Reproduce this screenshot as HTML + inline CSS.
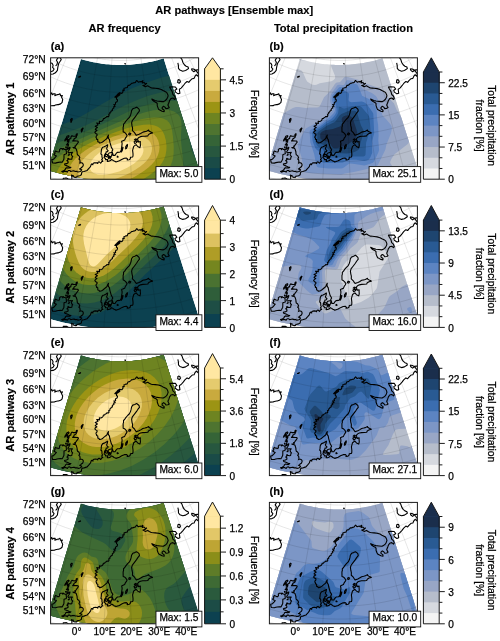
<!DOCTYPE html><html><head><meta charset="utf-8"><style>html,body{margin:0;padding:0;background:#fff;overflow:hidden}svg{display:block;will-change:transform}</style></head><body>
<svg width="500" height="641" viewBox="0 0 500 641" style="font-family:'Liberation Sans',sans-serif">
<defs>
<clipPath id="fr"><rect x="0" y="0" width="148" height="121.4"/></clipPath>
<path id="fan" d="M-2.82 112.4 L-0.09 103.23 L2.68 93.96 L5.48 84.57 L8.32 75.03 L11.21 65.33 L14.17 55.42 L17.19 45.28 L20.3 34.85 L23.51 24.09 L26.84 12.93 L30.31 1.29 L30.31 1.29 L32.38 1.88 L34.46 2.45 L36.54 2.99 L38.63 3.49 L40.73 3.96 L42.84 4.4 L44.95 4.81 L47.07 5.18 L49.2 5.52 L51.33 5.83 L53.46 6.11 L55.6 6.35 L57.74 6.56 L59.89 6.74 L62.04 6.89 L64.19 7 L66.34 7.08 L68.49 7.12 L70.64 7.14 L72.79 7.12 L74.95 7.06 L77.1 6.98 L79.25 6.86 L81.39 6.71 L83.54 6.52 L85.68 6.3 L87.82 6.05 L89.95 5.77 L92.08 5.45 L94.2 5.1 L96.32 4.72 L98.43 4.31 L100.54 3.86 L102.64 3.38 L104.73 2.87 L106.81 2.33 L108.89 1.76 L110.95 1.15 L113.01 0.51 L113.01 0.51 L116.7 12.09 L120.23 23.19 L123.64 33.89 L126.95 44.25 L130.16 54.34 L133.3 64.19 L136.37 73.84 L139.39 83.32 L142.37 92.65 L145.31 101.87 L148.21 110.99 L148.21 110.99 L144.46 112.15 L140.69 113.26 L136.9 114.31 L133.09 115.3 L129.27 116.23 L125.44 117.11 L121.59 117.92 L117.74 118.68 L113.87 119.37 L109.99 120.01 L106.1 120.59 L102.2 121.1 L98.3 121.56 L94.39 121.96 L90.47 122.3 L86.55 122.58 L82.62 122.79 L78.7 122.95 L74.77 123.05 L70.83 123.08 L66.9 123.06 L62.97 122.98 L59.04 122.83 L55.12 122.63 L51.2 122.36 L47.28 122.04 L43.37 121.65 L39.46 121.21 L35.56 120.7 L31.67 120.14 L27.79 119.52 L23.92 118.83 L20.06 118.09 L16.21 117.29 L12.37 116.43 L8.55 115.51 L4.74 114.53 L0.95 113.49 L-2.82 112.4Z"/>
<clipPath id="fc"><use href="#fan"/></clipPath>
<path id="grid" d="M-88.38 96.7 L-72.09 73.12 L-55.31 48.82 L-37.64 23.24 L-18.5 -4.47 L3.21 -35.89 M-62.8 112.41 L-49.13 87.22 L-35.05 61.26 L-20.23 33.93 L-4.17 4.33 L14.03 -29.24 M-35.68 125.29 L-24.79 98.78 L-13.58 71.45 L-1.77 42.69 L11.01 11.54 L25.51 -23.79 M-7.33 135.18 L0.64 107.65 L8.86 79.28 L17.51 49.42 L26.88 17.08 L37.51 -19.6 M21.91 141.97 L26.89 113.75 L32.02 84.66 L37.41 54.04 L43.26 20.88 L49.89 -16.73 M51.72 145.59 L53.64 116.99 L55.61 87.52 L57.69 56.5 L59.94 22.9 L62.5 -15.2 M81.74 145.98 L80.58 117.35 L79.38 87.84 L78.12 56.77 L76.75 23.12 L75.2 -15.03 M111.63 143.16 L107.4 114.81 L103.04 85.6 L98.46 54.85 L93.49 21.54 L87.85 -16.23 M141.04 137.14 L133.8 109.41 L126.33 80.83 L118.47 50.75 L109.96 18.17 L100.3 -18.77 M169.64 128 L159.46 101.21 L148.97 73.6 L137.93 44.54 L125.97 13.05 L112.4 -22.64 M197.09 115.84 L184.1 90.3 L170.7 63.97 L156.61 36.26 L141.34 6.25 L124.02 -27.79 M223.08 100.81 L207.42 76.81 L191.28 52.07 L174.29 26.04 L155.89 -2.17 L135.02 -34.15 M-86.01 93.26 L-78.43 98.31 L-70.69 103.11 L-62.8 107.64 L-54.76 111.92 L-46.59 115.92 L-38.29 119.66 L-29.86 123.11 L-21.33 126.29 L-12.7 129.18 L-3.98 131.79 L4.83 134.1 L13.7 136.13 L22.64 137.86 L31.63 139.29 L40.66 140.42 L49.73 141.25 L58.82 141.79 L67.92 142.02 L77.02 141.95 L86.12 141.58 L95.19 140.91 L104.25 139.94 L113.26 138.68 L122.23 137.11 L131.14 135.25 L139.98 133.09 L148.75 130.65 L157.44 127.91 L166.02 124.89 L174.51 121.59 L182.88 118 L191.12 114.15 L199.24 110.02 L207.21 105.62 L215.03 100.97 L222.7 96.06 L230.19 90.89 L237.52 85.49 L244.66 79.84 M-78.84 82.89 L-71.61 87.71 L-64.23 92.29 L-56.7 96.62 L-49.03 100.7 L-41.23 104.52 L-33.31 108.08 L-25.27 111.38 L-17.13 114.41 L-8.89 117.17 L-0.57 119.66 L7.83 121.86 L16.3 123.8 L24.83 125.44 L33.41 126.81 L42.03 127.89 L50.68 128.69 L59.35 129.2 L68.03 129.42 L76.72 129.35 L85.4 129 L94.06 128.36 L102.7 127.44 L111.3 126.23 L119.86 124.73 L128.36 122.96 L136.8 120.9 L145.17 118.56 L153.45 115.95 L161.65 113.07 L169.74 109.92 L177.73 106.5 L185.59 102.82 L193.34 98.88 L200.94 94.69 L208.41 90.25 L215.72 85.56 L222.88 80.63 L229.87 75.47 L236.68 70.09 M-71.61 72.42 L-64.73 77 L-57.71 81.36 L-50.54 85.48 L-43.24 89.36 L-35.82 93 L-28.28 96.39 L-20.63 99.53 L-12.89 102.41 L-5.05 105.04 L2.87 107.4 L10.86 109.5 L18.92 111.34 L27.04 112.91 L35.2 114.21 L43.4 115.24 L51.63 116 L59.88 116.48 L68.15 116.69 L76.41 116.63 L84.67 116.29 L92.91 115.69 L101.13 114.81 L109.32 113.65 L117.46 112.23 L125.55 110.54 L133.58 108.58 L141.54 106.36 L149.43 103.88 L157.22 101.14 L164.93 98.14 L172.52 94.88 L180.01 91.38 L187.38 87.63 L194.62 83.64 L201.72 79.42 L208.68 74.96 L215.49 70.27 L222.14 65.36 L228.62 60.23 M-64.28 61.81 L-57.75 66.15 L-51.09 70.28 L-44.3 74.19 L-37.37 77.87 L-30.34 81.32 L-23.19 84.54 L-15.93 87.51 L-8.59 90.25 L-1.16 92.74 L6.36 94.98 L13.94 96.97 L21.58 98.72 L29.28 100.2 L37.02 101.44 L44.8 102.41 L52.6 103.13 L60.43 103.59 L68.26 103.79 L76.1 103.73 L83.93 103.42 L91.75 102.84 L99.55 102 L107.31 100.91 L115.03 99.56 L122.7 97.96 L130.32 96.1 L137.87 94 L145.35 91.64 L152.74 89.04 L160.05 86.19 L167.25 83.11 L174.35 79.79 L181.34 76.23 L188.2 72.45 L194.94 68.44 L201.54 64.21 L208 59.77 L214.3 55.11 L220.45 50.25 M-56.82 51.01 L-50.66 55.11 L-44.36 59.01 L-37.94 62.71 L-31.4 66.18 L-24.76 69.44 L-18 72.48 L-11.15 75.29 L-4.21 77.87 L2.81 80.23 L9.9 82.34 L17.06 84.23 L24.28 85.87 L31.55 87.28 L38.87 88.44 L46.21 89.37 L53.59 90.04 L60.98 90.48 L68.38 90.67 L75.79 90.61 L83.18 90.31 L90.57 89.77 L97.93 88.98 L105.26 87.95 L112.56 86.67 L119.81 85.16 L127 83.4 L134.13 81.41 L141.2 79.19 L148.18 76.73 L155.08 74.04 L161.89 71.13 L168.6 67.99 L175.19 64.64 L181.68 61.06 L188.04 57.28 L194.28 53.28 L200.38 49.08 L206.33 44.68 L212.14 40.09 M-49.2 39.97 L-43.4 43.83 L-37.49 47.5 L-31.45 50.97 L-25.31 54.24 L-19.05 57.3 L-12.71 60.16 L-6.27 62.8 L0.26 65.23 L6.86 67.44 L13.53 69.43 L20.26 71.2 L27.05 72.75 L33.88 74.07 L40.76 75.17 L47.66 76.03 L54.6 76.67 L61.54 77.08 L68.5 77.26 L75.46 77.21 L82.42 76.92 L89.36 76.41 L96.28 75.67 L103.18 74.7 L110.03 73.5 L116.85 72.08 L123.61 70.43 L130.32 68.56 L136.96 66.47 L143.52 64.16 L150.01 61.63 L156.41 58.89 L162.71 55.94 L168.92 52.79 L175.01 49.43 L181 45.87 L186.86 42.11 L192.59 38.16 L198.19 34.03 L203.65 29.71 M-41.37 28.65 L-35.96 32.26 L-30.43 35.68 L-24.79 38.93 L-19.04 41.98 L-13.2 44.84 L-7.27 47.51 L-1.25 49.98 L4.85 52.25 L11.02 54.32 L17.25 56.18 L23.54 57.83 L29.88 59.28 L36.27 60.52 L42.7 61.54 L49.15 62.35 L55.63 62.94 L62.12 63.33 L68.63 63.49 L75.13 63.44 L81.63 63.18 L88.12 62.7 L94.59 62.01 L101.03 61.1 L107.44 59.98 L113.81 58.65 L120.13 57.11 L126.4 55.36 L132.6 53.41 L138.74 51.25 L144.8 48.89 L150.78 46.33 L156.67 43.57 L162.47 40.62 L168.17 37.48 L173.76 34.15 L179.24 30.64 L184.6 26.96 L189.83 23.09 L194.93 19.06 M-33.29 16.95 L-28.27 20.3 L-23.14 23.48 L-17.91 26.49 L-12.58 29.32 L-7.16 31.98 L-1.66 34.45 L3.93 36.75 L9.58 38.85 L15.31 40.77 L21.09 42.5 L26.93 44.03 L32.81 45.37 L38.74 46.52 L44.7 47.47 L50.69 48.22 L56.7 48.77 L62.72 49.13 L68.76 49.28 L74.79 49.24 L80.82 48.99 L86.84 48.55 L92.84 47.9 L98.82 47.06 L104.77 46.03 L110.67 44.79 L116.54 43.36 L122.35 41.74 L128.11 39.93 L133.8 37.92 L139.43 35.73 L144.97 33.36 L150.44 30.8 L155.82 28.06 L161.11 25.15 L166.29 22.06 L171.38 18.81 L176.35 15.38 L181.2 11.8 L185.94 8.06 M-24.9 4.8 L-20.28 7.88 L-15.57 10.8 L-10.76 13.57 L-5.86 16.17 L-0.88 18.61 L4.18 20.89 L9.31 22.99 L14.51 24.93 L19.77 26.69 L25.08 28.28 L30.45 29.69 L35.86 30.92 L41.3 31.98 L46.78 32.85 L52.28 33.54 L57.81 34.05 L63.35 34.37 L68.89 34.51 L74.44 34.47 L79.98 34.25 L85.51 33.84 L91.03 33.25 L96.52 32.48 L101.98 31.52 L107.41 30.39 L112.8 29.07 L118.15 27.58 L123.44 25.92 L128.67 24.07 L133.84 22.06 L138.94 19.88 L143.96 17.53 L148.91 15.01 L153.77 12.34 L158.53 9.5 L163.2 6.51 L167.77 3.36 L172.23 0.07 L176.59 -3.38 M-16.11 -7.93 L-11.92 -5.14 L-7.64 -2.48 L-3.27 0.03 L1.17 2.39 L5.7 4.61 L10.29 6.67 L14.95 8.58 L19.67 10.34 L24.44 11.94 L29.26 13.38 L34.13 14.66 L39.04 15.78 L43.99 16.74 L48.96 17.53 L53.96 18.16 L58.97 18.62 L64 18.91 L69.03 19.04 L74.07 19 L79.1 18.8 L84.12 18.43 L89.12 17.89 L94.11 17.19 L99.07 16.32 L104 15.29 L108.89 14.1 L113.74 12.75 L118.54 11.24 L123.29 9.56 L127.99 7.74 L132.62 5.76 L137.18 3.62 L141.66 1.34 L146.07 -1.09 L150.4 -3.67 L154.64 -6.38 L158.79 -9.24 L162.84 -12.23 L166.79 -15.35 M-6.79 -21.41 L-3.06 -18.92 L0.76 -16.55 L4.66 -14.31 L8.63 -12.2 L12.66 -10.22 L16.76 -8.38 L20.92 -6.67 L25.13 -5.11 L29.39 -3.68 L33.69 -2.39 L38.04 -1.25 L42.42 -0.25 L46.83 0.6 L51.27 1.31 L55.73 1.87 L60.2 2.28 L64.69 2.54 L69.18 2.66 L73.67 2.62 L78.16 2.44 L82.64 2.11 L87.11 1.63 L91.56 1.01 L95.99 0.23 L100.38 -0.68 L104.75 -1.75 L109.08 -2.96 L113.36 -4.31 L117.6 -5.8 L121.79 -7.43 L125.92 -9.2 L129.99 -11.1 L134 -13.14 L137.93 -15.31 L141.79 -17.6 L145.58 -20.03 L149.28 -22.58 L152.89 -25.25 L156.42 -28.03 M3.21 -35.89 L6.46 -33.72 L9.79 -31.66 L13.18 -29.71 L16.63 -27.87 L20.14 -26.15 L23.71 -24.54 L27.33 -23.06 L30.99 -21.69 L34.7 -20.45 L38.45 -19.33 L42.23 -18.34 L46.05 -17.47 L49.89 -16.73 L53.75 -16.11 L57.63 -15.62 L61.52 -15.27 L65.43 -15.04 L69.34 -14.94 L73.25 -14.97 L77.16 -15.12 L81.06 -15.41 L84.95 -15.83 L88.82 -16.37 L92.67 -17.05 L96.5 -17.85 L100.3 -18.77 L104.07 -19.82 L107.8 -21 L111.49 -22.3 L115.13 -23.72 L118.73 -25.26 L122.27 -26.91 L125.76 -28.69 L129.18 -30.57 L132.55 -32.57 L135.84 -34.68 L139.06 -36.9 L142.21 -39.23 L145.27 -41.65" fill="none" stroke="#000" stroke-opacity="0.17" stroke-width="0.6"/>
<path id="coast" d="M30.62 112.95 L31.14 111.95 L29.74 111.42 L28.98 111.08 L29.97 110.81 L30.5 110.03 L31.13 109.48 L32.01 108.97 L32.68 107.42 L32.58 106.23 L31.8 105.32 L30.81 104.98 L29.77 104.9 L29.15 105.44 L29.49 104.19 L29.53 103.98 L29.23 101.95 L28.29 101.35 L29.17 99.66 L28.16 97.8 L26.89 97.03 L26.58 95.73 L26.47 93.93 L25.77 91.7 L25.57 91.08 L24.76 90.47 L23.56 90.22 L23.06 90.21 L22.41 89.75 L23.65 89.79 L24.82 89.23 L24.21 88.33 L24.96 88.27 L25.06 88.06 L26.76 85.7 L27.77 84.32 L27.43 83.35 L26.19 83.24 L23.85 83.06 L22.06 83.22 L22.78 82.38 L23.48 81.76 L23.3 81.12 L25.56 79.65 L25.9 78.72 L25.12 78.46 L23.65 78.46 L22.46 78.42 L21.39 77.86 L20.39 79.09 L20.21 80.88 L19.24 80.88 L18.52 81.85 L18.42 83.28 L17.89 84.43 L17.45 85.23 L16.67 85.36 L17.48 86.14 L18.03 86.96 L17.44 88.4 L16.93 90.53 L16.14 91.69 L17.55 91.13 L18.62 89.8 L19.44 89.54 L19.1 91.04 L18.22 92.63 L17.27 93.97 L17.76 95.07 L19.3 94.66 L20.57 94.72 L21.88 94.56 L20.66 96.3 L21.2 97.75 L22.07 98.6 L21.42 99.79 L21.24 101.3 L20.14 101.51 L19.13 101.29 L18.33 101.33 L17.73 100.45 L17.12 100.84 L17.6 101.61 L16.26 102.85 L17.35 103.32 L17.54 104.91 L15.97 105.87 L14.59 106 L13.98 106.29 L14.3 107.25 L15.8 107.81 L17.18 108.34 L19 109.39 L20.34 109.45 L19.39 110.13 L17.99 110.27 L16.16 109.87 L15.15 110.43 L14.64 111.71 L12.94 113.07 L11.12 113.64 L12.25 114.22 L12.34 114.41 L13.37 113.61 L15.5 113.43 L16.74 114.27 L17.73 112.74 L19.13 112.69 L20.16 113.69 L21.77 113.23 L23.44 113.12 L24.77 113.67 L26.09 113.61 L27.5 114.16 L29.57 113.73 L30.62 112.95 M12.44 90.4 L13.86 91.58 L15.21 91.82 L15.73 93.39 L15.72 94.5 L15.91 95.89 L14.89 96.31 L13.45 96.85 L13.39 98.18 L13.4 99.74 L13.26 101.39 L12.28 103.23 L11.53 104.51 L9.85 104.27 L7.87 104.55 L6.43 104.83 L4.92 105.31 L1.93 105.13 L1.52 103.68 L1.24 101.81 L2.99 101.43 L3.79 100.54 L4.59 99.64 L5.8 98.19 L4.37 97.57 L3.25 96.79 L4.42 95.55 L4.17 94.58 L4.83 93.19 L6.72 93.96 L8.49 94.22 L9.08 93.03 L8.88 91.85 L9.95 90.78 L11.74 90.81 L12.25 91.84 L12.44 90.4 M17.34 97.56 L18.79 96.33 L18.6 97.18 L17.34 97.56 M18.46 77.61 L18.23 79.03 L16.09 80.79 L14.27 83.07 L14.26 82.15 L15.51 80.18 L16.41 78.57 L18.46 77.61 M17.47 81.13 L17.63 83.46 L16.83 83.71 L16.33 81.76 L17.47 81.13 M17.01 86.03 L17.41 87.49 L15.75 87.08 L17.01 86.03 M16.04 88.96 L15.49 90.18 L14.98 89.15 L16.04 88.96 M26.84 75.7 L26.38 77.9 L25.43 77.93 L25.6 76.59 L26.84 75.7 M32.69 69.93 L31.99 71.89 L30.91 74.22 L30.58 72.08 L31.5 70.87 L32.69 69.93 M21.68 60.48 L21.39 62.55 L20.4 64.67 L20.03 61.73 L21.68 60.48 M-8 43.11 L-6.11 42.4 L-4.98 41.86 L-5.91 40.94 L-5.52 39.04 L-8.47 37.7 L-6.05 37.24 L-4.91 36.18 L-7.97 34.25 L-6.47 33.36 L-4.97 32.46 L-3.51 32.06 L-2.33 31.79 L-1.41 34.56 L-0.52 37.03 L0.4 35.84 L1.13 35.1 L1.67 36.89 L3.12 35.91 L4.57 35.96 L4.24 37.9 L6.76 36.8 L8.03 36.75 L9.35 35.94 L10.06 38 L11.82 37.69 L10.85 39.3 L12.1 41.75 L11.69 43.63 L11.58 44.6 L10.01 46.08 L7.82 46.83 L7.16 46.85 L4.82 47.27 L3.72 47.87 L0.58 47.94 L-1.62 47.83 L-3.6 45.51 L-5.05 44.13 L-8 43.11 M30.22 18.27 L28.01 19.29 L29.46 19.15 L30.22 18.27 M74.39 5.41 L74.87 6.23 L74.26 5.97 L74.39 5.41 M17.47 126.19 L15.19 124.64 L13.02 123.95 L11.78 122.63 L12.73 121.37 L12.66 120.4 L14.39 120.36 L15.84 120.24 L17.62 121.27 L19.81 121.71 L21.17 122.06 L21.25 120.91 L21.3 119.2 L20.86 117.25 L21.72 117.77 L22.7 117.74 L22.6 119.02 L24.46 119.58 L26.16 119.45 L26.48 118.43 L29.16 117.89 L30.74 116.99 L31.1 114.76 L31.91 113.93 L33.3 113.72 L34.92 113.18 L36.56 112.67 L37.2 111.9 L37.84 111.12 L38.52 110.43 L39.87 108.79 L40.68 106.5 L41.12 106.12 L42.33 106.92 L42.18 106.03 L43.33 105.08 L44.9 104.91 L46.43 105.11 L47.15 105.7 L47.53 104.43 L48.6 104.01 L49.56 104.84 L50.03 105.31 L50.6 104.71 L51.21 103.59 L52.24 103.54 L51.78 102.85 L51.11 101.71 L51.93 100.9 L51.32 99.11 L51.39 98.24 L51.15 96.6 L50.27 96.13 L50.61 94.22 L50.8 92.03 L51 91.16 L52.12 89.4 L53.6 88.94 L55.09 88.16 L56.09 87.56 L57.07 86.99 L56.89 88.05 L56.7 89.15 L56.15 90.22 L56.1 91.1 L56.77 92.03 L57.58 92.74 L56.91 93.8 L55.67 93.94 L55.34 95.24 L54.81 95.86 L54.25 96.7 L53.82 97.55 L53.85 98.86 L53.41 99.71 L54.73 100.67 L55.04 101.78 L57.2 101.69 L56.87 102.98 L56.7 103.62 L58.24 103.49 L59.93 102.79 L60.99 101.66 L62.23 102.36 L63.48 103.27 L64.74 103.73 L65.36 104.18 L68.77 103.02 L71.1 101.63 L73.73 100.43 L75.86 100.26 L76.89 101.11 L76.54 102.2 L78.68 101.92 L79.66 101.01 L79.85 99.48 L82.09 99.16 L82.41 98.05 L82.43 96.08 L82.22 94.33 L82 92.58 L82.61 90.34 L83.11 88.54 L85.51 86.84 L87.08 88.72 L89.33 89.88 L89.86 87.61 L89.66 85.4 L89.75 83.69 L87.91 84.2 L87.3 82.46 L86.97 81.13 L88.24 79.68 L89.89 78.86 L92.26 78.4 L95.02 78.32 L97.29 78.05 L97.82 76.84 L99.73 75.67 L101.94 75.12 L101.17 74.55 L100.21 74.23 L98.24 73.13 L98.12 72.23 L96.02 73.42 L94.27 73.86 L92.29 74.3 L90.05 75.67 L88.43 76.49 L85.67 77.53 L84.53 75.88 L83.89 74.79 L81.88 72.86 L81.95 70.11 L81.38 67.83 L81.02 65.08 L81.74 62.71 L83.3 60.74 L84.63 59 L85.95 57.24 L87.21 55.24 L88.85 53.17 L88.46 51.29 L86.72 49.77 L85.99 49.35 L84.18 50.22 L82.15 50.94 L80.96 52.83 L80.58 55 L79.98 57.16 L78.85 59.57 L77.25 61.05 L75.21 63.44 L73.98 65.33 L72.92 66.27 L72.95 68.12 L72.53 69.5 L72.55 71.8 L72.58 74.08 L73.92 74.52 L75.29 75.85 L76.47 77.63 L75.82 79 L74.93 80.15 L74.05 82.19 L72.44 82.88 L71.05 83.56 L71.52 85.79 L71.41 87.13 L71.06 89.35 L70.83 91.12 L70.71 92.22 L69.61 94.2 L68.87 94.42 L66.67 94.61 L65.42 95.9 L64.39 97.54 L62.4 97.57 L62.43 96.69 L61.76 94.7 L61.32 93.58 L62.23 91.98 L60.76 89.58 L60.14 87.34 L59.33 84.62 L58.79 81.68 L58.13 80.97 L57.55 79.14 L57.88 77.35 L56.86 79.09 L56.55 80.43 L55.57 81.26 L54.08 82.5 L52.58 83.73 L51.09 84.72 L49.38 85.23 L48.79 85.26 L48.43 84.19 L47.21 84.02 L47.18 82.76 L47.19 81.81 L45.99 81.39 L46.1 80.45 L45.57 79.83 L45.4 79.58 L45.59 78.49 L46.43 77.61 L46.49 76.41 L45.19 75.66 L44.25 74.72 L44.74 73.62 L46.35 72.65 L44.68 71.48 L45.46 70.58 L46.82 69.74 L44.63 68.39 L46.28 67.65 L47.37 66.97 L46.11 65.23 L47.59 65.38 L48.95 65.75 L48.75 63.51 L50.13 63.72 L51.16 63.44 L51.84 62.89 L52.53 62.02 L52.8 60.83 L54.06 60.71 L54.66 59.84 L55.65 59.46 L56.29 58.67 L57.86 58.82 L58.42 57.91 L58.16 56.38 L59.31 56 L59.26 54.72 L60.21 54.15 L60.58 53.18 L61.82 52.79 L61.7 51.53 L62.4 50.78 L63.42 50.1 L63.01 48.86 L64.58 48.43 L63.27 46.73 L65.03 46.47 L64.78 45.19 L65.36 44.34 L66.42 43.89 L66.83 42.91 L66.86 41.85 L66.15 41.48 L65.95 41.42 L65.81 39.53 L64.72 39.51 L65.35 39.29 L66.32 39.44 L66.91 38.53 L67.04 36.84 L67.88 36.64 L69.09 36.32 L69.15 34.96 L71.21 35.6 L71.96 34.77 L72.38 33.74 L72.22 32.36 L73.6 32.58 L73.37 30.51 L74.39 30.25 L75.41 29.88 L76.6 29.73 L76.99 28.66 L77.6 27.49 L78.66 27.55 L79.47 26.99 L80.26 26.37 L80.92 25.49 L82.13 25.52 L82.97 25.01 L84.21 24.88 L84.91 24.43 L85.47 23.4 L86.24 22.66 L86.91 23.6 L87.78 24.3 L89.14 23.88 L90.06 23.74 L90.28 24.19 L92.34 22.83 L91.66 25.14 L93.34 24.63 L94.02 25.31 L94.92 26.28 L96.02 25.6 L94.33 27.16 L92.29 27.71 L93.99 28.5 L94.69 29.02 L97.12 28.02 L98.72 29.04 L100.12 29.82 L101.09 30.15 L102.95 30.31 L104.8 30.44 L107.66 30.85 L110.66 31.68 L112.44 32.78 L113.52 33.28 L115.27 34.1 L116.25 34.86 L117.13 36.66 L117.52 38.07 L116.98 39.74 L116.05 41.49 L114.4 42.91 L112.62 43.84 L109.55 43.56 L106.5 43.22 L104.42 42.64 L101.24 41.24 L102.06 42.58 L103.65 43.77 L105.84 44.83 L106.6 45.66 L106.69 48.1 L107.55 50.36 L108.23 51.68 L109.62 52.36 L111.52 53.4 L113.53 53.91 L113.62 52.44 L111.6 50.96 L111.54 49.75 L112.9 48.46 L114.35 49.34 L115.33 50.82 L117.36 50.55 L118.62 49.74 L117.87 48.46 L117.31 47.13 L118.11 45.43 L119 42.7 L120.3 40.83 L122.35 40.23 L124.23 41.68 L124.88 40.46 L123.97 38.21 L122.29 36.69 L121.61 33.82 L120.03 31.19 L119.04 29.15 L121.28 28.99 L124.8 29.15 L126.3 31.27 L124.32 32.44 L124.93 34.31 L127.51 36.04 L129.33 35.41 L128.74 31.46 L130.52 30.3 L132.61 27.92 L134.3 25.66 L136.46 23.69 L138.23 24.56 L139.52 22.91 L141.61 20.87 L143.48 20.54 L144.47 18.4 L145.75 16.92 L147.58 18.52 L147.96 16.08 L146.09 13.64 L144.96 12.21 L147.19 11.92 L150.38 12.21 L152.31 12.01 L155.65 12.4 M127.41 21.85 L129.26 22.24 L129.81 24.19 L128.71 25.4 L127.09 24.65 L127.41 21.85 M140.79 10.87 L142.91 11.25 L145.08 12.44 L143.26 13.93 L141.42 12.56 L140.79 10.87 M127.27 5.16 L127.82 7.8 L127.89 10.62 L129.29 12.31 L132.13 13.39 L135 12.71 L137.91 10.81 L137.55 9.26 L135.52 8.48 L133.74 6.99 L132.35 4.71 L131.33 1.65 L129.65 -0.55 M61.53 94.47 L61.46 96.22 L60.89 97.95 L60.34 99.24 L59.13 98.31 L57.89 98.24 L57.49 96.47 L58.55 95.21 L61.53 94.47 M56.26 96.4 L54.62 96.73 L54.75 98.49 L56.34 99.03 L57.04 97.76 L56.26 96.4 M57.33 99.3 L58.01 100.65 L59.51 100.94 L60.32 99.67 L57.33 99.3 M66.74 98.12 L66.59 99.42 L67.72 99.22 L66.74 98.12 M76.96 86.37 L76.78 88.37 L75.88 90.61 L75.05 91.07 L75.12 88.86 L76.96 86.37 M72.5 89.12 L71.31 92 L70.83 94.2 L71.8 92.44 L72.5 89.12 M84.78 83.09 L83.44 84.07 L84.25 85.8 L85.84 84.81 L86.91 83.38 L84.78 83.09 M85.09 80.82 L83.78 82.03 L85.2 82.39 L86.08 81.65 L85.09 80.82 M78.64 75.06 L78.02 76.68 L79.4 77.08 L80.24 75.68 L78.64 75.06 M66.14 37.47 L64.23 39.4 L67.22 38.49 L69.26 37.02 L69.09 35.02 L67.45 36 L66.14 37.47 M-1 16.5 L2.5 16.2 L4.8 15 L6.8 12.6 L7.25 9.3 L8.2 5.4 L10.6 2 L10.1 0.6 L8.5 -0.5 L7.25 0.1 L5.8 2.5 L7 4.4 L6.3 6.8 L5 8 M-1 5 L1.5 5.5 L2.5 7.5 L2 9.5 L3.5 11.2 L2.5 13 L0.5 14" fill="none" stroke="#000" stroke-width="1.1" stroke-linejoin="round"/>
</defs>
<text transform="translate(234.2 14.2) scale(0.9615 1)" text-anchor="middle" font-weight="bold" stroke="#000" stroke-width="0.15" font-size="11.54">AR pathways [Ensemble max]</text>
<text transform="translate(124.6 32.3) scale(0.9615 1)" text-anchor="middle" font-weight="bold" stroke="#000" stroke-width="0.15" font-size="11.54">AR frequency</text>
<text transform="translate(343.4 32.3) scale(0.9615 1)" text-anchor="middle" font-weight="bold" stroke="#000" stroke-width="0.15" font-size="11.54">Total precipitation fraction</text>
<text transform="translate(13.9 118.9) rotate(-90) scale(0.9615 1)" text-anchor="middle" font-weight="bold" stroke="#000" stroke-width="0.15" font-size="11.54">AR pathway 1</text>
<text transform="translate(45.7 62.9) scale(1.0000 1)" text-anchor="end" stroke="#000" stroke-width="0.25" font-size="10.25">72°N</text>
<text transform="translate(45.7 80.3) scale(1.0000 1)" text-anchor="end" stroke="#000" stroke-width="0.25" font-size="10.25">69°N</text>
<text transform="translate(45.7 96.5) scale(1.0000 1)" text-anchor="end" stroke="#000" stroke-width="0.25" font-size="10.25">66°N</text>
<text transform="translate(45.7 112.1) scale(1.0000 1)" text-anchor="end" stroke="#000" stroke-width="0.25" font-size="10.25">63°N</text>
<text transform="translate(45.7 126.9) scale(1.0000 1)" text-anchor="end" stroke="#000" stroke-width="0.25" font-size="10.25">60°N</text>
<text transform="translate(45.7 141.2) scale(1.0000 1)" text-anchor="end" stroke="#000" stroke-width="0.25" font-size="10.25">57°N</text>
<text transform="translate(45.7 155.3) scale(1.0000 1)" text-anchor="end" stroke="#000" stroke-width="0.25" font-size="10.25">54°N</text>
<text transform="translate(45.7 169.3) scale(1.0000 1)" text-anchor="end" stroke="#000" stroke-width="0.25" font-size="10.25">51°N</text>
<text transform="translate(50.7 50) scale(0.9615 1)" font-weight="bold" stroke="#000" stroke-width="0.15" font-size="11.54">(a)</text>
<g transform="translate(50.6 57.8)">
<g clip-path="url(#fr)"><g clip-path="url(#fc)">
<use href="#fan" fill="#0C4150"/>
<path d="M151 124 -3 124 -3 71.1 12.3 66.5 19 64 24.7 61.5 33.4 57 54 44.6 66.5 37.8 81 30.8 96 24.7 111 19.8 125.5 16.3 132.5 15.1 139 14.4 145 14.1 151 14.2 151 124Z" fill="#1A4B47" fill-rule="evenodd"/>
<path d="M151 124 -3 124 -3 81.5 19.1 74 34.3 68 45.9 62.5 66 51.7 75 47.2 86 42.4 97 38.3 110 34.7 116.5 33.4 122.5 32.6 128 32.2 133.5 32.3 138 32.7 142.5 33.7 147 35.3 151 37.6 151 76 150.4 79 150.2 81.5 150.4 84.5 151 87.1 151 124Z" fill="#27573F" fill-rule="evenodd"/>
<path d="M151 124 -3 124 -3 89.5 41.6 71 52.7 66 77 54.3 91 48.7 102 45.4 112 43.5 121 43 125 43.2 129 43.9 134 45.5 137.9 48 140.6 51 141.6 53 142.3 55 142.8 58 142.7 61.5 142.1 65.5 139.4 77.5 139.1 82 139.3 86 140.5 91.5 142.8 97.5 146 103.5 151 111.4 151 124Z" fill="#356437" fill-rule="evenodd"/>
<path d="M129 124 -3 124 -3 98 7.8 91.5 21.8 84.5 71.5 62.8 83 58.1 93.5 54.6 103 52.5 111.5 51.7 115 51.8 118.5 52.2 123.5 53.8 127 56.1 128.5 57.8 129.5 59.5 130.7 63.5 131 67.5 130.4 77.5 130.4 83 132.4 102.5 132.7 110 132.3 114.5 131.6 118.5 130 123 129.5 124 129 124Z" fill="#4E7430" fill-rule="evenodd"/>
<path d="M104.5 124 -3 124 -3 110.2 -0 106.5 3.9 102.5 8 99 12.7 95.5 18.1 92 25.1 88 40 80.7 65 70.3 76 66.1 84.5 63.2 91.5 61.3 98 60.1 103.5 59.6 108.5 59.8 112.5 60.7 116 62.5 118.5 64.8 120.3 68 121.4 72 122.3 78.5 123.1 88.5 123 95.5 122.5 100 121.5 104 120.1 107.5 118.2 111 115.5 114.6 112 118.3 107 122.5 105 124 104.5 124Z" fill="#6E8421" fill-rule="evenodd"/>
<path d="M88 124 4.2 124 4.2 123 4.7 118.5 6.3 114 8.7 109.5 12.1 105 16.3 100.5 21.7 96 27.4 92 34 88 43.5 83.2 54 78.5 66 73.9 77 70.3 85.5 68.2 93 67 99 66.8 104 67.6 107.3 69 110 71 112.3 74 113.9 77.5 115.2 82.5 115.9 88 115.7 93 114.9 97.5 113.6 101 111.8 104.5 109.5 107.7 106.5 111 103 114.2 98.5 117.6 92.5 121.5 88 124Z" fill="#9C9414" fill-rule="evenodd"/>
<path d="M73.5 124 17.1 124 16.2 120.5 16.2 117 17.1 113 18.9 109 21.8 104.5 25.2 100.5 29.6 96.5 35 92.5 40.6 89 47.2 85.5 55.5 81.7 64 78.5 72.5 75.8 80.5 73.9 87 73 92.5 72.9 97 73.5 101 75 103.8 77 105.9 79.5 107.5 82.5 108.5 86 108.9 89.5 108.5 93.5 107.5 97 105.9 100.5 103.9 103.5 101.3 106.5 98.1 109.5 94.3 112.5 89.5 115.7 84.5 118.7 78 122 73.5 124Z" fill="#C9AA3E" fill-rule="evenodd"/>
<path d="M54 124 35.7 124 33.5 123.1 31.6 122 29.1 119.5 28.1 117.5 27.5 115 27.6 112.5 28.2 109.5 29.5 106.5 31.3 103.5 33.7 100.5 36.2 98 39.7 95 43.2 92.5 51.9 87.5 62 83.1 72.5 79.9 81 78.4 85 78.2 88.5 78.4 91.8 79 94.5 80 96.5 81.1 98.5 82.9 100 85 101.1 88 101.4 91 101 94 100 97 98.3 100 96 103 93.5 105.5 89.9 108.5 85.5 111.5 80.5 114.4 75.5 116.9 70 119.3 64 121.4 58 123.2 54 124Z" fill="#E5CB6E" fill-rule="evenodd"/>
<path d="M52 117 47 116.6 43 115.2 41.5 114.2 40.4 113 39.6 111.5 39.2 110 39.5 106.5 41.3 102.5 44.6 98.5 49.3 94.5 54.8 91 61.1 88 68 85.6 74.5 84.2 80 83.7 85 84.2 89 85.7 91.5 88 92.5 90 92.9 92 92.7 94 91.9 96.5 90.5 99 88.9 101 83.9 105.5 76.6 110 68.5 113.6 60 116 56 116.7 52 117Z" fill="#FFE7A2" fill-rule="evenodd"/>
</g>
<use href="#grid"/>
<use href="#coast"/>
</g>
<rect x="0" y="0" width="148" height="121.4" fill="none" stroke="#1a1a1a" stroke-width="1"/>
</g>
<rect x="155.98" y="166.6" width="45.92" height="15.7" fill="#fff" stroke="#111" stroke-width="0.9"/>
<text transform="translate(159.38 176.8) scale(1.0000 1)" stroke="#000" stroke-width="0.25" font-size="10.2">Max: 5.0</text>
<rect x="204.6" y="68.8" width="15.8" height="110.4" fill="#0C4150"/>
<rect x="204.6" y="68.8" width="15.8" height="99.36" fill="#1A4B47"/>
<rect x="204.6" y="68.8" width="15.8" height="88.32" fill="#27573F"/>
<rect x="204.6" y="68.8" width="15.8" height="77.28" fill="#356437"/>
<rect x="204.6" y="68.8" width="15.8" height="66.24" fill="#4E7430"/>
<rect x="204.6" y="68.8" width="15.8" height="55.2" fill="#6E8421"/>
<rect x="204.6" y="68.8" width="15.8" height="44.16" fill="#9C9414"/>
<rect x="204.6" y="68.8" width="15.8" height="33.12" fill="#C9AA3E"/>
<rect x="204.6" y="68.8" width="15.8" height="22.08" fill="#E5CB6E"/>
<rect x="204.6" y="68.8" width="15.8" height="11.04" fill="#FFE7A2"/>
<path d="M204.6 69 L212.5 57.8 L220.4 69 Z" fill="#FFE7A2"/>
<path d="M204.6 179.2 L204.6 68.8 L212.5 57.8 L220.4 68.8 L220.4 179.2 Z" fill="none" stroke="#111" stroke-width="0.95" stroke-linejoin="miter"/>
<path d="M220.4 179.2h5.6 M220.4 168.16h3.2 M220.4 157.12h3.2 M220.4 146.08h5.6 M220.4 135.04h3.2 M220.4 124h3.2 M220.4 112.96h5.6 M220.4 101.92h3.2 M220.4 90.88h3.2 M220.4 79.84h5.6 M220.4 68.8h3.2" stroke="#111" stroke-width="0.95"/>
<text transform="translate(229.4 183.3) scale(1.0000 1)" stroke="#000" stroke-width="0.25" font-size="10.1">0</text>
<text transform="translate(229.4 150.18) scale(1.0000 1)" stroke="#000" stroke-width="0.25" font-size="10.1">1.5</text>
<text transform="translate(229.4 117.06) scale(1.0000 1)" stroke="#000" stroke-width="0.25" font-size="10.1">3</text>
<text transform="translate(229.4 83.94) scale(1.0000 1)" stroke="#000" stroke-width="0.25" font-size="10.1">4.5</text>
<text transform="translate(251.2 124) rotate(90) scale(1.0000 1)" text-anchor="middle" stroke="#000" stroke-width="0.25" font-size="10.55">Frequency [%]</text>
<text transform="translate(269.5 50) scale(0.9615 1)" font-weight="bold" stroke="#000" stroke-width="0.15" font-size="11.54">(b)</text>
<g transform="translate(269.4 57.8)">
<g clip-path="url(#fr)"><g clip-path="url(#fc)">
<use href="#fan" fill="#F4F4F4"/>
<path d="M151 124 -3 124 -3 -3 151 -3 151 124Z" fill="#D6D9DF" fill-rule="evenodd"/>
<path d="M151 124 -3 124 -3 -3 15 -3 17.1 0 17 0.6 15 0.8 8 -0.1 4.5 -1.2 3.8 -1 3.5 -0.5 3.6 0 5.1 1.5 9 3.5 32 12.8 33.5 14.5 36.7 22 38 23.9 42 26.5 43.5 27 45.5 27.2 47 26.9 50.4 25.5 62 23.5 63.9 22.5 65.4 21 65.8 19.5 65.5 17.6 62.1 9.5 61.3 6.5 59.9 5.5 55.7 4.5 29.5 2.1 24.6 1.5 23.5 1 26.9 0.5 32 0.3 63 -0.4 64 -0.7 64.5 -1.1 64.9 -3 151 -3 151 124Z" fill="#B6BDCB" fill-rule="evenodd"/>
<path d="M125.5 124 -3 124 -3 80.7 -2 80.1 3.5 72.2 9.8 65 12.4 57.5 13.8 56 16 54.5 23.5 50.3 26.5 49.2 29.5 49.2 36.5 50.2 40 49.8 47.5 49.8 49 49.5 50 48.9 51 47.3 54.6 39.5 58 36.3 61.5 32.1 65.5 26.3 66.5 25.2 67.5 24.7 70 24.4 71 24 74.9 19.5 76 18.9 78.5 19.1 89 21.9 93.5 24.5 110 30.4 112.9 32 117 38.1 124.5 45.5 127.2 52 131.5 58.5 136.7 65 137.4 66.5 139.4 81 139.6 83.5 139.3 85 138.1 86.5 125.1 96.5 122.1 101 120.8 104 120.8 105 121.2 106 126.1 113 126.9 115 126.5 115.7 125.4 116.5 118.5 119.5 119.6 120 123.5 120.4 125 120.9 125.6 122 125.5 124Z" fill="#98A6C5" fill-rule="evenodd"/>
<path d="M72 116.6 60.5 116.3 43 115.4 38 115 36 114.4 35.4 114 34.9 113 34.3 108 32.8 103.5 32 99 28.8 90 28.4 88 29 85.5 31.5 79.5 34.7 73.5 36.5 70.8 39 69.1 50 63.8 53 62 57.1 59 62.6 53.5 63.2 52.5 63.3 51 60.9 44.5 60.6 43 60.9 39 61.6 36.5 67.9 27.5 69.5 27 73 27.3 74.5 27.1 75.1 26.5 76.8 23 77.5 22.5 78.5 22.3 88.7 24.5 89.8 25.5 93 30.4 94.5 31.8 102.5 35.1 106.5 38.1 107.5 39.6 110.6 46 112.8 57 113.8 58.5 117 61.6 121.4 67 122.4 69 122.4 71.5 121.6 75.5 117.1 86.5 115.9 92 109.1 106 107.8 108 105 109.3 95.5 111.7 84.5 114.2 75.5 115.7 72 116.6ZM64 124 37.6 124 37.6 123.5 38 122 39 121.5 48 121.5 53 122.2 62.5 122.4 63.9 123 64.3 124 64 124ZM102.5 124 86 124 86.2 123 87 122.2 88 121.8 90 121.7 101 121.9 102.2 122.5 102.6 123.5 102.7 124 102.5 124Z" fill="#7C96C6" fill-rule="evenodd"/>
<path d="M73 110.5 71.5 110.8 59 110.6 49.5 109.7 48.5 109.4 47.5 108.7 46.8 107 44.8 96.5 40.9 84.5 40.2 74 40.5 73 41.3 72 50.5 67 56 62.6 59.5 60.3 64 55.8 65.4 53.5 65.6 51.5 65 48.6 62.5 42.5 62.4 40 63.1 37.5 69.5 29.6 70.5 29.2 71.5 29.2 75.5 30.2 76.5 30.2 77.2 29.5 77.9 27 78.5 26 79 25.6 80 25.5 86.5 26.3 88 27 90 30.9 92.7 38 99.5 41.3 101.5 42.5 104 45.6 106.5 49.6 107.2 52.5 107.8 61.5 108.7 67 109.2 77.5 108.9 82.5 109.7 92 109 94.5 105 102.9 104 104.5 103 105.2 97.6 107 95 107.6 83.5 105.9 80.5 105.8 78.5 106.6 74.5 109.7 73 110.5Z" fill="#5C84C2" fill-rule="evenodd"/>
<path d="M67 105 58.5 105.1 53.5 104.6 52 103.8 51.4 102.5 50.4 96.5 49.8 94.5 49 93.3 47 91.8 46 90.5 43.7 85 43.1 82 42.7 75 43.2 73.5 44.1 72.5 50.5 69 56.5 64.3 61.5 61.5 63.6 59.5 65.5 57.2 67 54.5 67.2 51.5 66.6 47.5 64.2 41.5 64.3 39.5 65.1 38 70 32.8 71 31.9 72 31.6 74.5 32.5 79.4 35.5 79.7 37 79.2 42 79.4 43 80.3 44 82 44.4 92.5 43.8 94 44.2 96 45.2 98 47.2 103 54.1 103.9 56 104.8 75.5 102.7 83.5 102.6 88 102.8 95 101 99.5 99.5 101.6 97.5 102.6 95 103.1 86.8 102 80.5 102 78 102.6 73.5 104.8 67 105Z" fill="#3B6DB0" fill-rule="evenodd"/>
<path d="M77 99.6 74.5 99.8 68 99.6 60 99.8 58 99.6 56.6 99 56 98 54.8 94 53.5 91.6 52.3 90.5 48.5 88.6 46.9 86.5 45.9 84 45.5 82 45.2 78 45.4 75 45.8 74 46.9 73 51.5 70.3 57.5 65.7 63 63 64.8 61.5 66.7 59 68.7 55.5 69.4 50 70 49 71 49.2 73.5 50.5 75 50.7 82.5 48.6 89 48.3 90.7 48.5 92.5 49.6 98.7 57 99.6 58.5 100 60 100.5 73 96.7 85 96.1 97 95.5 98 94 98.6 81 98.8 77 99.6Z" fill="#295A93" fill-rule="evenodd"/>
<path d="M79.5 95.5 77 95.6 67.5 95.2 62 94.7 60.5 94.1 59.5 92.9 57.5 89.2 56.5 88.2 50.5 85.7 49 84.5 48.2 83 47.9 81.5 48 76 48.2 75 49 74 57.4 68 64.5 64.8 65.8 64 70.4 57.5 72 56.1 79 53.2 81.5 52.9 85 53 86.6 53.5 87.7 55 91.5 67.5 94 72.1 94.4 74 90.9 86 90 90.5 89.5 91.5 88 92.7 84.5 94.5 79.5 95.5Z" fill="#1E4570" fill-rule="evenodd"/>
<path d="M67 90.5 65 90.4 63.5 89.9 62.6 89 60.3 85.5 59 84.3 53.5 82.4 51.7 81.5 51.1 80.5 50.9 79.5 50.8 77 51.1 75.5 52.5 74 55.5 72.4 63.5 71.1 70.5 68.7 71.8 67.5 72.8 65.5 72.8 64.5 72.2 61.5 73.1 59.5 74.5 58.4 76.5 57.7 78.5 57.6 80 58 82.4 59.5 83.5 61 87.6 73.5 87.8 75.5 86.8 79 86 80.7 84.9 82 77.3 87.5 75.5 88.4 71.5 88.9 68.5 90.3 67 90.5Z" fill="#1A2E4C" fill-rule="evenodd"/>
</g>
<use href="#grid"/>
<use href="#coast"/>
</g>
<rect x="0" y="0" width="148" height="121.4" fill="none" stroke="#1a1a1a" stroke-width="1"/>
</g>
<rect x="369.11" y="166.6" width="51.59" height="15.7" fill="#fff" stroke="#111" stroke-width="0.9"/>
<text transform="translate(372.51 176.8) scale(1.0000 1)" stroke="#000" stroke-width="0.25" font-size="10.2">Max: 25.1</text>
<rect x="423.4" y="72" width="15.8" height="107.2" fill="#F4F4F4"/>
<rect x="423.4" y="72" width="15.8" height="96.48" fill="#D6D9DF"/>
<rect x="423.4" y="72" width="15.8" height="85.76" fill="#B6BDCB"/>
<rect x="423.4" y="72" width="15.8" height="75.04" fill="#98A6C5"/>
<rect x="423.4" y="72" width="15.8" height="64.32" fill="#7C96C6"/>
<rect x="423.4" y="72" width="15.8" height="53.6" fill="#5C84C2"/>
<rect x="423.4" y="72" width="15.8" height="42.88" fill="#3B6DB0"/>
<rect x="423.4" y="72" width="15.8" height="32.16" fill="#295A93"/>
<rect x="423.4" y="72" width="15.8" height="21.44" fill="#1E4570"/>
<rect x="423.4" y="72" width="15.8" height="10.72" fill="#1A2E4C"/>
<path d="M423.4 72.2 L431.3 57.8 L439.2 72.2 Z" fill="#1A2E4C"/>
<path d="M423.4 179.2 L423.4 72 L431.3 57.8 L439.2 72 L439.2 179.2 Z" fill="none" stroke="#111" stroke-width="0.95" stroke-linejoin="miter"/>
<path d="M439.2 179.2h5.6 M439.2 168.48h3.2 M439.2 157.76h3.2 M439.2 147.04h5.6 M439.2 136.32h3.2 M439.2 125.6h3.2 M439.2 114.88h5.6 M439.2 104.16h3.2 M439.2 93.44h3.2 M439.2 82.72h5.6 M439.2 72h3.2" stroke="#111" stroke-width="0.95"/>
<text transform="translate(448.2 183.3) scale(1.0000 1)" stroke="#000" stroke-width="0.25" font-size="10.1">0</text>
<text transform="translate(448.2 151.14) scale(1.0000 1)" stroke="#000" stroke-width="0.25" font-size="10.1">7.5</text>
<text transform="translate(448.2 118.98) scale(1.0000 1)" stroke="#000" stroke-width="0.25" font-size="10.1">15</text>
<text transform="translate(448.2 86.82) scale(1.0000 1)" stroke="#000" stroke-width="0.25" font-size="10.1">22.5</text>
<text transform="translate(487.6 125.6) rotate(90) scale(1.0000 1)" text-anchor="middle" stroke="#000" stroke-width="0.25" font-size="10.4">Total precipitation</text>
<text transform="translate(475.6 125.6) rotate(90) scale(1.0000 1)" text-anchor="middle" stroke="#000" stroke-width="0.25" font-size="10.4">fraction [%]</text>
<text transform="translate(13.9 267.1) rotate(-90) scale(0.9615 1)" text-anchor="middle" font-weight="bold" stroke="#000" stroke-width="0.15" font-size="11.54">AR pathway 2</text>
<text transform="translate(45.7 211.1) scale(1.0000 1)" text-anchor="end" stroke="#000" stroke-width="0.25" font-size="10.25">72°N</text>
<text transform="translate(45.7 228.5) scale(1.0000 1)" text-anchor="end" stroke="#000" stroke-width="0.25" font-size="10.25">69°N</text>
<text transform="translate(45.7 244.7) scale(1.0000 1)" text-anchor="end" stroke="#000" stroke-width="0.25" font-size="10.25">66°N</text>
<text transform="translate(45.7 260.3) scale(1.0000 1)" text-anchor="end" stroke="#000" stroke-width="0.25" font-size="10.25">63°N</text>
<text transform="translate(45.7 275.1) scale(1.0000 1)" text-anchor="end" stroke="#000" stroke-width="0.25" font-size="10.25">60°N</text>
<text transform="translate(45.7 289.4) scale(1.0000 1)" text-anchor="end" stroke="#000" stroke-width="0.25" font-size="10.25">57°N</text>
<text transform="translate(45.7 303.5) scale(1.0000 1)" text-anchor="end" stroke="#000" stroke-width="0.25" font-size="10.25">54°N</text>
<text transform="translate(45.7 317.5) scale(1.0000 1)" text-anchor="end" stroke="#000" stroke-width="0.25" font-size="10.25">51°N</text>
<text transform="translate(50.7 198.2) scale(0.9615 1)" font-weight="bold" stroke="#000" stroke-width="0.15" font-size="11.54">(c)</text>
<g transform="translate(50.6 206)">
<g clip-path="url(#fr)"><g clip-path="url(#fc)">
<use href="#fan" fill="#0C4150"/>
<path d="M38.5 109.5 33.5 110 28 109.9 22.5 109.2 17 108 11.5 106.3 6.5 104.1 1.5 101.4 -3 98.4 -3 -3 135.7 -3 137.4 2 138.2 7 138.1 12.5 137.2 18 135.3 23.5 132.7 29 129.2 34.5 124.8 40 117.1 48 95 68.1 73.5 90 65.5 97.1 58.5 102.1 52 105.6 45.5 108 38.5 109.5Z" fill="#1E4E45" fill-rule="evenodd"/>
<path d="M36.5 97.5 30.5 97.3 25 96.5 19.5 94.9 14 92.6 9 89.7 4.5 86.3 0.5 82.3 -3 77.8 -3 5.6 -0.4 2.5 5 -3 125.3 -3 127.2 1.5 128.3 6.5 128.5 11.5 127.7 17 126 22 123.3 27.5 119.7 33 115.3 38.5 109.1 45 92.2 61 76 77.1 70.5 82.1 65 86.6 58 91.2 51 94.5 44 96.6 36.5 97.5Z" fill="#2F5E3A" fill-rule="evenodd"/>
<path d="M43.5 87 37 87.5 31 86.9 25 85.4 19 82.7 14 79.4 9.4 75 5.5 70 2.2 64 -0.8 56 -3 47.2 -3 24.8 -1.6 20 0.2 15.5 2.7 11 5.9 6.5 10.4 1.5 15.5 -3 115.3 -3 117.6 1 119.1 5.5 119.7 10 119.4 14.5 118.3 19 116.3 24 113.5 29 109.9 34 105.1 39.5 99.2 45.5 75.5 68.5 67.5 75.5 61.5 79.9 55.5 83.3 49.5 85.6 43.5 87Z" fill="#4A7231" fill-rule="evenodd"/>
<path d="M43 79 37.5 79.1 32.5 78.4 27.5 76.8 23.2 74.5 19 71.3 15.5 67.5 12.5 63 10 58 7.6 51.5 5.8 44 4.9 37.5 4.8 31 5.6 25 7.1 19.5 9.7 14 13 9 15.9 5.5 19 2.5 22.5 -0.4 26.2 -3 104.8 -3 107.6 0.5 109.7 4.5 110.8 8.5 111 13 110.4 17.5 108.9 22 106.6 26.5 103.2 31.5 98.5 37.2 92 44 72.5 62.7 65 69.2 59.5 73.1 54 76 48.5 78 43 79Z" fill="#75861F" fill-rule="evenodd"/>
<path d="M44 72 40 72.2 36 71.7 32 70.4 28.5 68.6 25.5 66.2 23 63.5 20.6 60 18.3 55.5 16.3 50 14.5 43.5 13.6 37.5 13.3 32 13.7 27 14.6 22.5 16.3 18 18.7 13.5 22.5 8.6 27 4.3 32.5 0.3 38.5 -3 92.4 -3 96 -0.2 98.8 3 100.8 6.5 101.9 10.5 102.1 14.5 101.4 19 99.7 23.5 97.2 28 93.1 33.5 87.1 40 69.4 57 62.8 63 58 66.6 53.5 69.2 49 71 44 72Z" fill="#AF9D26" fill-rule="evenodd"/>
<path d="M44 66 41 66.1 38 65.6 35.2 64.5 33 63 30.9 61 29.1 58.5 27.6 55.5 26 51.5 24.3 46 23 40.2 22.3 35.5 22.2 31 22.5 27 23.4 23 24.7 19.5 26.6 16 28.8 13 31 10.5 33.8 8 37.1 5.5 40.5 3.5 44.5 1.6 52.5 -1.1 61 -2.5 65.5 -2.6 69.5 -2.4 73.5 -1.9 77.5 -0.9 81 0.5 84 2 87 4.2 89.5 7 91.2 10 92.1 13 92.3 16.5 91.7 20 90.4 23.5 88.3 27.5 85 32 80.1 37.5 57.5 59 53.7 62 50.5 63.9 47 65.4 44 66Z" fill="#DDC260" fill-rule="evenodd"/>
<path d="M44 60.2 42.5 60.5 41 60.1 39.6 59 38.7 57.5 37.5 54 33.6 38.5 32.8 33 32.8 28.5 33.8 24 35.6 20 38.5 16 42.5 12.5 47 9.8 52.5 7.8 58.5 6.7 64 6.7 69.5 7.8 74 9.7 76 11.1 77.8 13 79 15 79.6 17 79.8 19.5 79.4 22 78.6 24.5 77.3 27 74.5 31 70.4 35.5 55.6 49 47.2 58 45.4 59.5 44 60.2Z" fill="#FFE7A2" fill-rule="evenodd"/>
</g>
<use href="#grid"/>
<use href="#coast"/>
</g>
<rect x="0" y="0" width="148" height="121.4" fill="none" stroke="#1a1a1a" stroke-width="1"/>
</g>
<rect x="155.98" y="314.8" width="45.92" height="15.7" fill="#fff" stroke="#111" stroke-width="0.9"/>
<text transform="translate(159.38 325) scale(1.0000 1)" stroke="#000" stroke-width="0.25" font-size="10.2">Max: 4.4</text>
<rect x="204.6" y="220.2" width="15.8" height="107.2" fill="#0C4150"/>
<rect x="204.6" y="220.2" width="15.8" height="93.8" fill="#1E4E45"/>
<rect x="204.6" y="220.2" width="15.8" height="80.4" fill="#2F5E3A"/>
<rect x="204.6" y="220.2" width="15.8" height="67" fill="#4A7231"/>
<rect x="204.6" y="220.2" width="15.8" height="53.6" fill="#75861F"/>
<rect x="204.6" y="220.2" width="15.8" height="40.2" fill="#AF9D26"/>
<rect x="204.6" y="220.2" width="15.8" height="26.8" fill="#DDC260"/>
<rect x="204.6" y="220.2" width="15.8" height="13.4" fill="#FFE7A2"/>
<path d="M204.6 220.4 L212.5 205.5 L220.4 220.4 Z" fill="#FFE7A2"/>
<path d="M204.6 327.4 L204.6 220.2 L212.5 205.5 L220.4 220.2 L220.4 327.4 Z" fill="none" stroke="#111" stroke-width="0.95" stroke-linejoin="miter"/>
<path d="M220.4 327.4h5.6 M220.4 314h3.2 M220.4 300.6h5.6 M220.4 287.2h3.2 M220.4 273.8h5.6 M220.4 260.4h3.2 M220.4 247h5.6 M220.4 233.6h3.2 M220.4 220.2h5.6" stroke="#111" stroke-width="0.95"/>
<text transform="translate(229.4 331.5) scale(1.0000 1)" stroke="#000" stroke-width="0.25" font-size="10.1">0</text>
<text transform="translate(229.4 304.7) scale(1.0000 1)" stroke="#000" stroke-width="0.25" font-size="10.1">1</text>
<text transform="translate(229.4 277.9) scale(1.0000 1)" stroke="#000" stroke-width="0.25" font-size="10.1">2</text>
<text transform="translate(229.4 251.1) scale(1.0000 1)" stroke="#000" stroke-width="0.25" font-size="10.1">3</text>
<text transform="translate(229.4 224.3) scale(1.0000 1)" stroke="#000" stroke-width="0.25" font-size="10.1">4</text>
<text transform="translate(251.2 273.8) rotate(90) scale(1.0000 1)" text-anchor="middle" stroke="#000" stroke-width="0.25" font-size="10.55">Frequency [%]</text>
<text transform="translate(269.5 198.2) scale(0.9615 1)" font-weight="bold" stroke="#000" stroke-width="0.15" font-size="11.54">(d)</text>
<g transform="translate(269.4 206)">
<g clip-path="url(#fr)"><g clip-path="url(#fc)">
<use href="#fan" fill="#F4F4F4"/>
<path d="M151 124 -3 124 -3 -3 151 -3 151 124Z" fill="#D6D9DF" fill-rule="evenodd"/>
<path d="M151 124 -3 124 -3 -3 151 -3 151 124ZM85.7 98 91.6 96 99.5 91.6 102.5 88.5 107.2 82.5 107.8 80.5 110.2 65.5 118.2 53 119.4 50.5 119 49 117.6 47 112.8 41 111 39.5 109 39.1 99.5 38.4 97 38.4 95.5 38.9 92 41.8 84.2 51 82.9 52 78.5 54.3 77 55.4 74.5 58.7 72.6 62.5 71.7 65 71.4 67 71.3 73 71.8 76 73.6 78.5 75.1 84 81.7 97 83 98.3 84 98.4 85.7 98Z" fill="#B6BDCB" fill-rule="evenodd"/>
<path d="M81 124 -3 124 -3 -3 112.7 -3 114.3 -2 116.5 -1.4 133.5 -0.9 134.9 -1 136.2 -1.5 138 -3 151 -3 151 -2.5 150.1 -2 145.4 0.5 143 1.5 138 2.7 123.1 5.5 118.7 7 113.2 10 110.9 12 105.5 19.6 104.2 21 102.2 22 94 25.1 92 26.5 91 28.4 88.4 36 87.1 37.5 81 42.6 77.1 47.5 72.8 52 71.5 54.2 68.9 61.5 68 62.9 66 63.5 57.5 63.1 56.5 63.3 56 63.7 55.5 66.5 55.8 77.5 54.8 88 54.2 91 53.7 92 53 92.7 47.1 95 46.6 95.5 46.4 96.5 53 105.6 54.5 107.2 55.5 107.6 57.5 107.2 68.5 102.5 69.5 102.4 70.5 102.8 72 104.8 75.3 111.5 76.3 113 83.5 119 86.2 120.5 82.5 121.5 81.7 122.5 81.3 124 81 124ZM151 124 105.8 124 105 122.3 103.5 121.3 98.7 121 96.3 120.5 102.5 119 103.9 118 103.3 115.5 103.8 114 105.3 112 114.5 101.9 116 99.2 119.4 91.5 120.5 89.9 128 85 132.5 80.7 144.5 74.6 145 74.7 147 76.6 151 77.7 151 124Z" fill="#98A6C5" fill-rule="evenodd"/>
<path d="M46 88.1 43 88.4 40.5 87 37 84 28.8 75.5 28.3 73.5 29.2 67.5 30 65.5 31.6 63 32.1 61.5 31.7 60 31.2 59.5 30 59.1 26 58.8 22 59 9.5 61.5 6.3 62.5 5.6 63 5.1 64 4.2 76 3 80.7 2 82.7 1.5 82.3 0.5 77 0 75.8 -0.5 75.5 -1 75.6 -3 77 -3 -3 103.4 -3 106.4 -0.5 108 0.3 118.5 1.4 120.5 2 120 2.5 118.7 3 105.2 6.5 100.9 8 96.4 10.5 89.5 15.4 88.6 17.5 88.7 21 88.3 23 83.3 34 80 38.7 75.8 45.5 71 50.2 69 53 67.9 55 65.8 60.5 65 61.1 63.5 61.3 55.5 60.5 54.5 61 53.7 62 53 64 52.7 66.5 53.1 78 52.2 85 51.8 86 51 86.9 46 88.1ZM149 111.1 147.5 110.9 147 109.5 147 107.5 147.6 103.5 147.8 94.5 148 93.5 148.5 92.9 149.5 92.3 151 91.9 151 110.8 149 111.1ZM142 107.2 141.5 107.3 140.5 106.8 138.3 104.5 137.6 103 138.2 102 140.5 101.1 141 101 141.8 101.5 142.2 102.5 142.5 104.5 142.5 106 142 107.2Z" fill="#7C96C6" fill-rule="evenodd"/>
<path d="M49 80.7 48 80.8 46.5 80.2 40.5 76.5 39 75 39 73.5 41.6 68.5 42.8 64.5 43.2 62 43.1 58 43.5 55.5 42.8 54 41 52.5 39.5 51.8 36.5 51.1 35.9 50.5 36.4 49.5 37.7 48.5 42 46.9 49.1 43 49.9 42 50 41.5 49.6 40.5 44.5 35.2 41.3 33 36.7 31 28.5 28.5 24.5 26.4 23 26 22 26.1 21 26.5 3.5 37.7 2.5 38.2 2 38.1 1.2 36.5 0.4 32 -0.1 31 -1 30.5 -3 30.6 -3 -3 82.9 -3 80.5 -0.5 80.2 0 80.6 0.5 96.5 2 99.7 2.5 100.7 3 100.3 3.5 99.1 4 88.5 7 86.5 7.7 85.4 8.5 85 10 84.9 18.5 85.1 19.5 86.5 21.5 86.7 22.5 86 24.5 83.8 29 82 32.3 78.6 37 74.7 43.5 68.9 49.5 67.3 52 64.9 55 63.6 58 63 58.8 62 59.3 60 59.4 55 58.4 54 58.9 52.7 60.5 51.4 63 50.5 67 50.1 70 50.1 78.5 49.7 80 49 80.7Z" fill="#5C84C2" fill-rule="evenodd"/>
<path d="M39 22.6 36.5 22.6 33.5 22.1 31.3 21.5 29.5 20.6 2.7 2 1.1 0 0.8 -1 1.1 -2 2 -2.9 3.5 -3 10 -1.5 16.5 -0.7 17 -1.1 16.1 -3 51.6 -3 51.5 -1.5 51.1 -0.5 50.5 0.2 48.9 1 49.9 1.5 53 1.9 75.1 3 79.2 3.5 80.6 4 80.4 4.5 79.3 5 73 6.7 67.5 7.4 59.5 7.9 56.6 8.5 55.7 9 54.8 10 52.5 15 51.1 19 50.5 19.9 49 20.4 39 22.6ZM60 57.2 58 57.3 56.5 56.5 55 55 54.8 53.5 57.3 44 60.9 37.5 62.7 32.5 65.3 28.5 65.9 27 65.8 26.5 65 25.7 58.9 23 56.5 21.5 56.9 21 58 20.9 67 21.1 69 20.8 70 20.3 71 19.2 73.6 15 75 13.5 76.5 13.2 79 14 80.5 14.9 81 15.8 81.7 20 82 20.5 84.8 22.5 85 23.5 84.5 25 82 29.7 76.6 36.5 72.9 42.5 67.4 48 66.6 49 65.5 51.5 62.5 54.5 61 56.5 60 57.2Z" fill="#3B6DB0" fill-rule="evenodd"/>
<path d="M25 0 22 0 20.5 -0.4 19.7 -1.5 19.5 -3 50.1 -3 50 -2 49.5 -1.3 45.5 -0.3 25 0ZM37 14.5 34 14.7 32.1 14 20.5 6 19.2 5 18.5 4 19 3.5 21.5 3 29 3 53.6 4 58.5 4.5 60 5 59.5 5.5 52 7 49.5 8 48.8 9 47.5 12.2 46 13.6 37 14.5ZM59.5 54.2 58.5 54 58.3 52.5 60.1 46 65.2 36 70.9 27 72.5 25.5 77.5 22 79.5 22 82.8 23 83.3 24 83.1 25 81 28.7 74.8 36 71.1 41.5 65 47.5 64.4 48.5 64 50.5 63.3 51.5 61.5 53 59.5 54.2Z" fill="#295A93" fill-rule="evenodd"/>
<path d="M44.5 -1.5 22.5 -1.4 21.8 -1.5 21.1 -2 20.8 -3 47.3 -3 46.5 -2 44.5 -1.5ZM39 8.6 37.5 8.7 36 8.4 34.5 7.5 33.7 6.5 34 6 34.5 5.8 37.5 5.4 40.5 5.8 41.6 6.5 41.6 7 41 7.8 39 8.6ZM66 43.1 65.5 43.2 65 43 64.9 42.5 65.5 40 66.4 37.5 72.7 28.5 74.4 27 78 24.9 79.5 24.3 80.9 24.5 81 25.5 79.4 28 72.5 36 69.5 40.1 66 43.1Z" fill="#1E4570" fill-rule="evenodd"/>
</g>
<use href="#grid"/>
<use href="#coast"/>
</g>
<rect x="0" y="0" width="148" height="121.4" fill="none" stroke="#1a1a1a" stroke-width="1"/>
</g>
<rect x="369.11" y="314.8" width="51.59" height="15.7" fill="#fff" stroke="#111" stroke-width="0.9"/>
<text transform="translate(372.51 325) scale(1.0000 1)" stroke="#000" stroke-width="0.25" font-size="10.2">Max: 16.0</text>
<rect x="423.4" y="220.1" width="15.8" height="107.3" fill="#F4F4F4"/>
<rect x="423.4" y="220.1" width="15.8" height="96.57" fill="#D6D9DF"/>
<rect x="423.4" y="220.1" width="15.8" height="85.84" fill="#B6BDCB"/>
<rect x="423.4" y="220.1" width="15.8" height="75.11" fill="#98A6C5"/>
<rect x="423.4" y="220.1" width="15.8" height="64.38" fill="#7C96C6"/>
<rect x="423.4" y="220.1" width="15.8" height="53.65" fill="#5C84C2"/>
<rect x="423.4" y="220.1" width="15.8" height="42.92" fill="#3B6DB0"/>
<rect x="423.4" y="220.1" width="15.8" height="32.19" fill="#295A93"/>
<rect x="423.4" y="220.1" width="15.8" height="21.46" fill="#1E4570"/>
<rect x="423.4" y="220.1" width="15.8" height="10.73" fill="#1A2E4C"/>
<path d="M423.4 220.3 L431.3 205.5 L439.2 220.3 Z" fill="#1A2E4C"/>
<path d="M423.4 327.4 L423.4 220.1 L431.3 205.5 L439.2 220.1 L439.2 327.4 Z" fill="none" stroke="#111" stroke-width="0.95" stroke-linejoin="miter"/>
<path d="M439.2 327.4h5.6 M439.2 316.67h3.2 M439.2 305.94h3.2 M439.2 295.21h5.6 M439.2 284.48h3.2 M439.2 273.75h3.2 M439.2 263.02h5.6 M439.2 252.29h3.2 M439.2 241.56h3.2 M439.2 230.83h5.6 M439.2 220.1h3.2" stroke="#111" stroke-width="0.95"/>
<text transform="translate(448.2 331.5) scale(1.0000 1)" stroke="#000" stroke-width="0.25" font-size="10.1">0</text>
<text transform="translate(448.2 299.31) scale(1.0000 1)" stroke="#000" stroke-width="0.25" font-size="10.1">4.5</text>
<text transform="translate(448.2 267.12) scale(1.0000 1)" stroke="#000" stroke-width="0.25" font-size="10.1">9</text>
<text transform="translate(448.2 234.93) scale(1.0000 1)" stroke="#000" stroke-width="0.25" font-size="10.1">13.5</text>
<text transform="translate(487.6 273.75) rotate(90) scale(1.0000 1)" text-anchor="middle" stroke="#000" stroke-width="0.25" font-size="10.4">Total precipitation</text>
<text transform="translate(475.6 273.75) rotate(90) scale(1.0000 1)" text-anchor="middle" stroke="#000" stroke-width="0.25" font-size="10.4">fraction [%]</text>
<text transform="translate(13.9 415.3) rotate(-90) scale(0.9615 1)" text-anchor="middle" font-weight="bold" stroke="#000" stroke-width="0.15" font-size="11.54">AR pathway 3</text>
<text transform="translate(45.7 359.3) scale(1.0000 1)" text-anchor="end" stroke="#000" stroke-width="0.25" font-size="10.25">72°N</text>
<text transform="translate(45.7 376.7) scale(1.0000 1)" text-anchor="end" stroke="#000" stroke-width="0.25" font-size="10.25">69°N</text>
<text transform="translate(45.7 392.9) scale(1.0000 1)" text-anchor="end" stroke="#000" stroke-width="0.25" font-size="10.25">66°N</text>
<text transform="translate(45.7 408.5) scale(1.0000 1)" text-anchor="end" stroke="#000" stroke-width="0.25" font-size="10.25">63°N</text>
<text transform="translate(45.7 423.3) scale(1.0000 1)" text-anchor="end" stroke="#000" stroke-width="0.25" font-size="10.25">60°N</text>
<text transform="translate(45.7 437.6) scale(1.0000 1)" text-anchor="end" stroke="#000" stroke-width="0.25" font-size="10.25">57°N</text>
<text transform="translate(45.7 451.7) scale(1.0000 1)" text-anchor="end" stroke="#000" stroke-width="0.25" font-size="10.25">54°N</text>
<text transform="translate(45.7 465.7) scale(1.0000 1)" text-anchor="end" stroke="#000" stroke-width="0.25" font-size="10.25">51°N</text>
<text transform="translate(50.7 346.4) scale(0.9615 1)" font-weight="bold" stroke="#000" stroke-width="0.15" font-size="11.54">(e)</text>
<g transform="translate(50.6 354.2)">
<g clip-path="url(#fr)"><g clip-path="url(#fc)">
<use href="#fan" fill="#0C4150"/>
<path d="M135 124 -3 124 -3 -3 151 -3 151 111.5 142 118.9 135 124Z" fill="#1A4B47" fill-rule="evenodd"/>
<path d="M110.5 124 -3 124 -3 7.8 7.3 -3 151 -3 151 92 141.5 101.3 131.2 110 119.6 118.5 112 123.3 110.5 124Z" fill="#27573F" fill-rule="evenodd"/>
<path d="M81.5 124 0.2 124 -3 121.8 -3 30.2 3.5 21.3 11 12.7 19.3 4.5 28.1 -3 151 -3 151 68.1 144.5 77 137.2 85.5 129.2 93.5 120.5 101 111.1 108 101.5 114.1 91.5 119.6 81.5 124Z" fill="#356437" fill-rule="evenodd"/>
<path d="M47 121 38.5 121.3 30.5 120.6 23 119 16.3 116.5 10 113 4.9 109 0.4 104 -3 98.5 -3 56 -0.9 51 1.8 45.5 5 40.1 8.4 35 12.6 29.5 17.5 23.8 22.5 18.7 28 13.6 34 8.8 40 4.5 46 0.6 52.5 -3 135.3 -3 138.1 0 140.6 3.5 142.9 7.5 144.5 11.5 145.7 15.5 146.5 20 146.9 24.5 146.8 29.5 146.3 34 145.4 39 143.8 45 141.9 50.5 139.5 56 137 61 130.7 71 126.9 76 122.7 81 113.7 90 104 98 93 105.4 81.5 111.5 70 116.1 58.5 119.3 52.5 120.4 47 121Z" fill="#4E7430" fill-rule="evenodd"/>
<path d="M51.5 108.5 44.5 108.9 38 108.5 32 107.4 26.5 105.6 21.5 103.1 17.2 100 13.5 96.3 10.6 92 8.3 87 7 82 6.4 76.5 6.6 70.5 7.7 64.5 9.6 58 12.3 51.5 15.6 45.5 19.6 39.5 24.4 33.5 29.5 28 35.6 22.5 42 17.5 48.5 13.3 55.5 9.4 62.5 6.2 69.5 3.8 76.5 1.9 83.5 0.8 90.5 0.4 97 0.7 103 1.8 108.5 3.5 113.5 6 116.5 8 119.4 10.5 121.7 13 123.9 16 125.5 19 127 22.5 127.9 26 128.6 30 128.8 34 128.6 38 128.1 42 127.1 46.5 125.7 51 123.9 55.5 119.4 64 113.5 72.5 106.5 80.4 98.5 87.7 89.8 94 80.5 99.4 71 103.7 61 106.8 51.5 108.5Z" fill="#6E8421" fill-rule="evenodd"/>
<path d="M52 100 46.5 100.4 41.5 100.2 36.5 99.4 32 98 28 96.1 24.5 93.6 21.5 90.6 19.3 87.5 17.4 83.5 16.3 79.5 15.8 75 15.9 70.5 16.6 66 18.1 61 20.1 56 22.8 51 26 46.1 29.7 41.5 33.9 37 38.3 33 43.5 29 48.5 25.8 53.5 23 59 20.5 64.5 18.5 70 17.1 75.5 16.2 81 15.8 87 16.2 91.5 17 95.5 18.2 99.5 20.1 104 23.5 107.3 27.5 109.7 32.5 110.9 38 111 44.5 109.9 51.5 107.5 58.5 104.2 65 99.8 71.5 94.5 77.7 88.2 83.5 81.5 88.5 74.5 92.7 67 96.1 59.5 98.6 52 100Z" fill="#9C9414" fill-rule="evenodd"/>
<path d="M54 92.5 49.5 92.9 45.5 92.8 41.5 92.2 38 91.2 35 89.9 32 88 29.5 85.7 27.4 83 25.8 80 24.7 76.5 24.2 73 24.2 69.5 24.8 65.5 25.8 61.5 27.4 57.5 29.5 53.5 32.1 49.5 35 45.7 38.4 42 42 38.7 46 35.5 50 32.9 54.5 30.3 59 28.3 63.5 26.6 68 25.4 72.5 24.7 77 24.4 81 24.6 85 25.3 88.5 26.5 91.5 28 95 30.5 98 34 100 38 101.2 43 101.3 48 100.5 53 98.7 58.5 96 64 92.6 69 88.4 74 83.5 78.7 78 82.9 72 86.5 66 89.3 60 91.3 54 92.5Z" fill="#C9AA3E" fill-rule="evenodd"/>
<path d="M53 85 47 84.7 44.2 84 41.6 83 39.5 81.8 37.4 80 35.7 78 34.6 76 33.6 73.5 33.1 71 33 68.5 33.3 65.5 33.9 62.5 35 59.5 38.1 53.5 42.4 48 47.8 43 54 38.8 60.5 35.7 67 33.8 73.5 33.2 76.5 33.4 79.5 34 82 34.9 84.5 36.2 87.3 38.5 89.2 41 90.7 44.5 91.4 48 91.3 52 90.4 56 88.7 60.5 86.5 64.5 83.6 68.5 79.8 72.5 75.7 76 71.5 78.9 67 81.3 62.5 83.1 57.5 84.4 53 85Z" fill="#E5CB6E" fill-rule="evenodd"/>
<path d="M58 76.1 54 76.2 50 75.5 47 73.9 44.5 71.3 43.2 68 42.9 64.5 43.7 60.5 45.5 56.5 48 52.9 51.2 49.5 55.2 46.5 59.5 44.3 64 42.9 68.5 42.3 72.5 42.7 75.9 44 77.9 45.5 79.2 47 80.3 49 81 51.5 81.1 54 80.7 56.5 80 59 78.6 62 75 67 73 69 70.4 71 67.5 72.8 64.5 74.3 61 75.5 58 76.1Z" fill="#FFE7A2" fill-rule="evenodd"/>
</g>
<use href="#grid"/>
<use href="#coast"/>
</g>
<rect x="0" y="0" width="148" height="121.4" fill="none" stroke="#1a1a1a" stroke-width="1"/>
</g>
<rect x="155.98" y="463" width="45.92" height="15.7" fill="#fff" stroke="#111" stroke-width="0.9"/>
<text transform="translate(159.38 473.2) scale(1.0000 1)" stroke="#000" stroke-width="0.25" font-size="10.2">Max: 6.0</text>
<rect x="204.6" y="368" width="15.8" height="107.6" fill="#0C4150"/>
<rect x="204.6" y="368" width="15.8" height="96.84" fill="#1A4B47"/>
<rect x="204.6" y="368" width="15.8" height="86.08" fill="#27573F"/>
<rect x="204.6" y="368" width="15.8" height="75.32" fill="#356437"/>
<rect x="204.6" y="368" width="15.8" height="64.56" fill="#4E7430"/>
<rect x="204.6" y="368" width="15.8" height="53.8" fill="#6E8421"/>
<rect x="204.6" y="368" width="15.8" height="43.04" fill="#9C9414"/>
<rect x="204.6" y="368" width="15.8" height="32.28" fill="#C9AA3E"/>
<rect x="204.6" y="368" width="15.8" height="21.52" fill="#E5CB6E"/>
<rect x="204.6" y="368" width="15.8" height="10.76" fill="#FFE7A2"/>
<path d="M204.6 368.2 L212.5 353.6 L220.4 368.2 Z" fill="#FFE7A2"/>
<path d="M204.6 475.6 L204.6 368 L212.5 353.6 L220.4 368 L220.4 475.6 Z" fill="none" stroke="#111" stroke-width="0.95" stroke-linejoin="miter"/>
<path d="M220.4 475.6h5.6 M220.4 464.84h3.2 M220.4 454.08h3.2 M220.4 443.32h5.6 M220.4 432.56h3.2 M220.4 421.8h3.2 M220.4 411.04h5.6 M220.4 400.28h3.2 M220.4 389.52h3.2 M220.4 378.76h5.6 M220.4 368h3.2" stroke="#111" stroke-width="0.95"/>
<text transform="translate(229.4 479.7) scale(1.0000 1)" stroke="#000" stroke-width="0.25" font-size="10.1">0</text>
<text transform="translate(229.4 447.42) scale(1.0000 1)" stroke="#000" stroke-width="0.25" font-size="10.1">1.8</text>
<text transform="translate(229.4 415.14) scale(1.0000 1)" stroke="#000" stroke-width="0.25" font-size="10.1">3.6</text>
<text transform="translate(229.4 382.86) scale(1.0000 1)" stroke="#000" stroke-width="0.25" font-size="10.1">5.4</text>
<text transform="translate(251.2 421.8) rotate(90) scale(1.0000 1)" text-anchor="middle" stroke="#000" stroke-width="0.25" font-size="10.55">Frequency [%]</text>
<text transform="translate(269.5 346.4) scale(0.9615 1)" font-weight="bold" stroke="#000" stroke-width="0.15" font-size="11.54">(f)</text>
<g transform="translate(269.4 354.2)">
<g clip-path="url(#fr)"><g clip-path="url(#fc)">
<use href="#fan" fill="#F4F4F4"/>
<path d="M151 124 -3 124 -3 -3 151 -3 151 124Z" fill="#D6D9DF" fill-rule="evenodd"/>
<path d="M151 124 -3 124 -3 -3 151 -3 151 124Z" fill="#B6BDCB" fill-rule="evenodd"/>
<path d="M151 124 -3 124 -3 -3 151 -3 151 73.2 149.5 72.9 148.7 73 148.3 73.5 147.8 76 147.5 91 147.6 91.5 148.5 92.1 151 92.2 151 124ZM121 100.5 127.5 100.1 129.4 99.5 129.8 99 130.1 98 130.6 92.5 131 91.6 131.5 91.2 133 91.3 138 92.1 139.5 92.7 141 93.6 141.5 93.5 142.1 90.5 142.3 82.5 142.2 77 142 75.8 141.5 74.8 140 74.4 129.5 74.9 127 75.3 125.9 76 123.5 80.1 119 91 114.5 97.5 113.5 100 113.7 100.5 115 100.8 121 100.5Z" fill="#98A6C5" fill-rule="evenodd"/>
<path d="M28.5 124 -3 124 -3 -3 151 -3 151 29.7 149 29.5 148.3 29 147 19.8 146.5 18.8 146 18.5 135.6 24.5 135 25 134.6 26 134.5 27.5 135 31 140 53 140.1 54 139.7 55 138 56 122.5 61.2 120.9 62 119.9 63.5 118.5 68.5 116 72.2 114.5 73.5 111.5 73.2 110.4 73.5 109.3 75.5 107.5 80.5 105.3 84 96.4 96 91 101.5 89.2 103 83.5 105.4 81 105.9 67.5 104.6 61 105.2 56.5 104.2 43.5 106.8 42 106.7 37.5 105.7 36 105.7 34.7 106.5 29.5 111.5 27.6 113 17.2 118 15.7 119 15.6 119.5 17 120 27.5 121.1 28.5 122 28.7 124 28.5 124Z" fill="#7C96C6" fill-rule="evenodd"/>
<path d="M36 90 34 90.3 33.2 90 32.7 89.5 27.5 75.9 26.5 73.8 25.5 72.5 24.5 72 22.5 71.9 21 71.4 11.6 66 2 61.2 -0.5 60.4 -3 60 -3 -3 59.2 -3 59.1 0.5 60 1.2 72.2 4.5 88 7.7 96 11 100.5 11.6 106.5 14.3 108.5 15.5 111 20.2 112 21 113 20.9 117.5 18.7 118.5 18.6 119 18.9 120 21.7 124.7 42 125.1 44.5 124.6 45.5 124 45.9 117 48.4 115.6 49.5 114.8 51.5 112.3 61.5 111.6 63 110.4 64.5 109.5 65 108 64.6 99 58.9 97.5 58.1 96.5 58 95.5 58.7 94.9 60 95.5 63.5 95 65.5 92.3 69.5 89 73.7 87 74.8 73 79.9 68.5 83 60.5 89.4 58.5 89.7 53 88.9 46.5 89 40.5 89.2 36 90ZM80 0 71 0.3 69.8 -0.5 69.5 -3 84.5 -3 82 -0.6 80 0ZM71 14.5 72.5 13.4 73.2 12 73.2 10 72.5 9.1 70 8.3 67 7.7 64 7.6 62 8 62.2 8.5 65.5 10.9 69 14.4 70 14.8 71 14.5Z" fill="#5C84C2" fill-rule="evenodd"/>
<path d="M53.5 84 47 84.1 43.5 83.2 38.5 84.4 37.5 84 37 83.4 32.2 70 32.6 68.5 35.5 66.2 35.7 65.5 35.4 64.5 34 62.9 29.5 60.4 26.2 56.5 24.8 54 23 46.5 22 45.5 19.9 44.5 19 43 16 26 16.4 23.5 18.2 20 19 19.3 20.5 19.1 30 20.3 31.5 20.3 33.5 19.1 39 14.3 40.5 13.7 42.5 14 48.5 15.7 58 18.6 61.5 19.9 66 22.1 68 21.4 74.5 17.3 76.5 16.8 88.5 17.5 93 18.7 94.5 18.5 97.5 17.6 98.5 17.6 103.5 19.9 104.9 22 110.2 34.5 110.5 36 106.2 54 105.4 56 104.5 56.6 103 56.2 91.5 48.6 90 48 89 48.2 87.5 50.2 84.6 55 83.9 56.5 84.2 58.5 87.4 68 87.3 69.5 86.5 70.8 85.5 71.5 84.5 71.5 83.3 68.5 80 62.7 79 61.5 78 61.4 74.5 65.5 70.1 70 66.3 74.5 65 75.5 58.5 79.1 57 80.5 55 83.1 53.5 84ZM-1.5 30.7 -2 30.3 -2 29.9 -1.5 29.8 -1.3 30 -1.5 30.7Z" fill="#3B6DB0" fill-rule="evenodd"/>
<path d="M52.5 82.1 49 82.3 47 81.9 44.5 79.2 41.7 78 40.6 75.5 40.4 74 41.2 72 41.5 70.3 41.4 66 40.5 64.2 35.7 56.5 35.1 54.5 38.9 44 41 40 47.5 32.8 49.5 31.2 50 31.2 51 31.7 55.5 37 57 37.4 59.5 36.4 66.8 32.5 67.9 31.5 69.2 29.5 70 28.9 79.5 24.6 81.5 24.6 89 25.9 91 25.6 96 23.8 97.5 23.9 98.8 24.5 100.1 26.5 101.6 30 102 32 100.5 41.3 99.5 44.4 99 44.6 98 44.1 93 38.2 92.1 37.5 91.5 37.4 89 38.6 85.5 42 81 44.1 79.6 45.5 76.2 50.5 75.6 52 75.2 54 74.6 55 67.8 62.5 60.5 69.9 54 80.6 53.3 81.5 52.5 82.1Z" fill="#295A93" fill-rule="evenodd"/>
<path d="M74.5 41 73.4 41 73 40.6 73 40 74.6 36 76 34.3 80 31.9 81.5 31.3 85 31.6 86.3 32 86.8 32.5 86.6 33.5 86 34.5 83.7 37.5 82.6 38.5 80 39.5 74.5 41ZM68 54.7 66 54.5 62 52.5 61.4 51.5 61.4 49.5 62 47.9 64.5 44.4 66.5 43.4 70 42.7 70.7 43 70.8 43.5 69.9 47 70.3 52 69.5 53.5 68 54.7ZM51.5 80.1 50 80.4 48.2 80 47.2 79 45.7 76.5 44.9 74 44.3 68 43.7 65 40.4 58.5 40.3 57.5 40.7 56.5 43.9 52.5 45 51.6 46 51.6 47 52.3 52 57 52.8 58 54 60.7 55 60.9 57 59.9 58 59.8 60.9 61 61.6 62 60.9 63.5 58 66.5 56.2 69 55.7 70 55.5 73 55 74.5 52.6 79 51.5 80.1Z" fill="#1E4570" fill-rule="evenodd"/>
<path d="M50.5 77.7 49.5 77.7 49 77.3 47.2 72.5 45.8 64.5 45 61 45.3 60 46 59.7 47 60.1 49.1 62 53.5 63.9 54 64.5 53.7 65.5 51.1 70 51 71.5 51.4 75.5 51 77 50.5 77.7Z" fill="#1A2E4C" fill-rule="evenodd"/>
</g>
<use href="#grid"/>
<use href="#coast"/>
</g>
<rect x="0" y="0" width="148" height="121.4" fill="none" stroke="#1a1a1a" stroke-width="1"/>
</g>
<rect x="369.11" y="463" width="51.59" height="15.7" fill="#fff" stroke="#111" stroke-width="0.9"/>
<text transform="translate(372.51 473.2) scale(1.0000 1)" stroke="#000" stroke-width="0.25" font-size="10.2">Max: 27.1</text>
<rect x="423.4" y="368.3" width="15.8" height="107.3" fill="#F4F4F4"/>
<rect x="423.4" y="368.3" width="15.8" height="96.57" fill="#D6D9DF"/>
<rect x="423.4" y="368.3" width="15.8" height="85.84" fill="#B6BDCB"/>
<rect x="423.4" y="368.3" width="15.8" height="75.11" fill="#98A6C5"/>
<rect x="423.4" y="368.3" width="15.8" height="64.38" fill="#7C96C6"/>
<rect x="423.4" y="368.3" width="15.8" height="53.65" fill="#5C84C2"/>
<rect x="423.4" y="368.3" width="15.8" height="42.92" fill="#3B6DB0"/>
<rect x="423.4" y="368.3" width="15.8" height="32.19" fill="#295A93"/>
<rect x="423.4" y="368.3" width="15.8" height="21.46" fill="#1E4570"/>
<rect x="423.4" y="368.3" width="15.8" height="10.73" fill="#1A2E4C"/>
<path d="M423.4 368.5 L431.3 354 L439.2 368.5 Z" fill="#1A2E4C"/>
<path d="M423.4 475.6 L423.4 368.3 L431.3 354 L439.2 368.3 L439.2 475.6 Z" fill="none" stroke="#111" stroke-width="0.95" stroke-linejoin="miter"/>
<path d="M439.2 475.6h5.6 M439.2 464.87h3.2 M439.2 454.14h3.2 M439.2 443.41h5.6 M439.2 432.68h3.2 M439.2 421.95h3.2 M439.2 411.22h5.6 M439.2 400.49h3.2 M439.2 389.76h3.2 M439.2 379.03h5.6 M439.2 368.3h3.2" stroke="#111" stroke-width="0.95"/>
<text transform="translate(448.2 479.7) scale(1.0000 1)" stroke="#000" stroke-width="0.25" font-size="10.1">0</text>
<text transform="translate(448.2 447.51) scale(1.0000 1)" stroke="#000" stroke-width="0.25" font-size="10.1">7.5</text>
<text transform="translate(448.2 415.32) scale(1.0000 1)" stroke="#000" stroke-width="0.25" font-size="10.1">15</text>
<text transform="translate(448.2 383.13) scale(1.0000 1)" stroke="#000" stroke-width="0.25" font-size="10.1">22.5</text>
<text transform="translate(487.6 421.95) rotate(90) scale(1.0000 1)" text-anchor="middle" stroke="#000" stroke-width="0.25" font-size="10.4">Total precipitation</text>
<text transform="translate(475.6 421.95) rotate(90) scale(1.0000 1)" text-anchor="middle" stroke="#000" stroke-width="0.25" font-size="10.4">fraction [%]</text>
<text transform="translate(13.9 563.5) rotate(-90) scale(0.9615 1)" text-anchor="middle" font-weight="bold" stroke="#000" stroke-width="0.15" font-size="11.54">AR pathway 4</text>
<text transform="translate(45.7 507.5) scale(1.0000 1)" text-anchor="end" stroke="#000" stroke-width="0.25" font-size="10.25">72°N</text>
<text transform="translate(45.7 524.9) scale(1.0000 1)" text-anchor="end" stroke="#000" stroke-width="0.25" font-size="10.25">69°N</text>
<text transform="translate(45.7 541.1) scale(1.0000 1)" text-anchor="end" stroke="#000" stroke-width="0.25" font-size="10.25">66°N</text>
<text transform="translate(45.7 556.7) scale(1.0000 1)" text-anchor="end" stroke="#000" stroke-width="0.25" font-size="10.25">63°N</text>
<text transform="translate(45.7 571.5) scale(1.0000 1)" text-anchor="end" stroke="#000" stroke-width="0.25" font-size="10.25">60°N</text>
<text transform="translate(45.7 585.8) scale(1.0000 1)" text-anchor="end" stroke="#000" stroke-width="0.25" font-size="10.25">57°N</text>
<text transform="translate(45.7 599.9) scale(1.0000 1)" text-anchor="end" stroke="#000" stroke-width="0.25" font-size="10.25">54°N</text>
<text transform="translate(45.7 613.9) scale(1.0000 1)" text-anchor="end" stroke="#000" stroke-width="0.25" font-size="10.25">51°N</text>
<text transform="translate(50.7 494.6) scale(0.9615 1)" font-weight="bold" stroke="#000" stroke-width="0.15" font-size="11.54">(g)</text>
<g transform="translate(50.6 502.4)">
<g clip-path="url(#fr)"><g clip-path="url(#fc)">
<use href="#fan" fill="#0C4150"/>
<path d="M151 124 -3 124 -3 -3 151 -3 151 98.1 150 100 149.5 102 149.9 103.5 151 104.1 151 124Z" fill="#1C4C46" fill-rule="evenodd"/>
<path d="M151 124 -3 124 -3 -3 151 -3 151 72.3 140.5 82.9 135.3 89 131.7 94.5 131 96.5 130.8 98.5 131.2 101.5 132.8 105.5 134.8 109 137 111.5 138.9 113 141 114.1 147 115.3 151 116.9 151 124ZM48.1 26.5 49.5 25.9 50.5 25.1 51.5 23.6 52 22.2 52.1 19 50.9 15.5 45 5.8 42.5 2.8 40.5 1.5 38.5 0.9 36.5 1 34.5 1.7 32 3.9 30.7 6.5 30.7 9.5 31.9 12.5 37.5 20.7 40.5 24.1 42.5 25.5 44.5 26.4 46.5 26.7 48.1 26.5Z" fill="#2A5A3D" fill-rule="evenodd"/>
<path d="M133.5 124 -3 124 -3 72.9 2.5 68 7.5 63 10 60 12.3 56 15.1 49.5 16.8 44.5 18.6 35 19.9 30 20.2 25.5 21 24 22.5 23.3 24.5 23.9 28.9 28 31.8 30 40 34.3 52.5 40 55.5 42.1 61.5 48 63.5 48.8 65.5 48.9 68.5 47.6 70.7 45.5 74.3 39 74.7 37.5 74.7 36.5 73.5 33.9 72 32.1 70.7 31 68.5 30.1 62.5 28.7 61.4 28 60.5 26.8 60.1 25.5 60.2 24.5 62.8 16 63.3 13 63.2 11 62.8 9.5 62 8.4 58 5.6 56.6 4 55.5 1 55 -3 151 -3 151 22 148.5 24.1 146.3 26.5 144.8 29 143.8 31.5 143.1 36.5 143 46.5 142.8 51 142 55.5 140.8 59.5 139.1 63 136.7 66.5 126 78.8 123 81.6 117.6 84.5 115.5 86.3 114.3 88.5 113.7 91 113.6 94.5 114.2 98.5 115.3 102 117.1 105.5 120.5 110.2 127 117.2 130.5 120.5 133.9 123 133.9 124 133.5 124Z" fill="#3E6A34" fill-rule="evenodd"/>
<path d="M88 76.1 86.5 76 85 74.9 84.5 73.5 83.6 68 82.9 66 82 65 78.5 62.6 77 61.2 75.5 59.1 74.9 57 74.8 54.5 75.6 51.5 77.3 48 81.5 41.5 82.3 39.5 82.6 37 82.5 34.5 80.7 22.5 80 20.9 77.2 17.5 76.3 16 75.8 14 76 12 77.2 9.5 79 7.5 88 -0.1 92.6 -3 109.9 -3 113 -0.5 115.7 3 120.4 12 122.2 17 122.9 22 123 30.5 123.9 42 123.7 47.5 122.8 52 121.7 55 120 58 117.8 60.5 114.8 63 112 64.7 108.5 66.4 94.6 71.5 92.2 73 89.5 75.4 88 76.1ZM109 124 -1.6 124 -1.6 123 -0.5 121.5 0.5 120.9 5 120.2 7 119.4 8.5 118.3 9.5 116.8 9.9 115.5 9.7 114 6.7 108 5.6 104.5 5.5 100.5 6.4 96.5 7.7 93.5 12 85.5 17.2 73.5 23 64 25 57.5 26.1 55 27.5 53.2 29.5 51.7 32 50.4 34 50 36.5 50.7 40.7 54 44.9 55 46.5 56.3 47.5 58.5 48.2 63 48.6 64.5 49.9 66 54.5 69.5 56.1 71.5 57.9 75.5 61.5 86.6 63.5 89.8 66 91.9 68 92.9 70 93.4 72 93.5 74 93.2 78.7 91.5 86 87.6 88.5 86.9 90 87.1 91.5 87.7 95 90.4 99.3 95.5 102.2 101 104.2 106.5 107.7 118 109.1 123 109 124Z" fill="#5E7C28" fill-rule="evenodd"/>
<path d="M100.5 56.5 98.5 56.7 96 56.4 93.5 55.7 91 54.5 88.6 53 87.1 51.5 86.3 50 86 48.5 86 46 87 36.5 87 27.5 87.5 19.5 86.9 17 86.3 16 83.9 13.5 83.5 12.5 83.6 11.5 84.5 9.9 87.5 8 92 6.3 96 5.5 99.5 5.7 102.5 6.5 105.5 8.3 108 10.6 110.6 14 112.8 18 114.1 22 114.8 26 114.9 32 114.3 37.5 113.1 42 110.8 48 109 51.1 106.5 53.8 103.5 55.6 100.5 56.5ZM85.5 124 26.5 124 25.6 116.5 24.5 101.9 22.8 93 22.9 80 23.4 76.5 24.7 73 26.1 70.5 29.1 66.5 29.9 65 30.5 59 31.3 57 32.5 55.7 34 55.1 35.5 55.4 40.5 58.3 42.2 60 43 61.9 43.5 65.5 44 67 45.5 68.9 50.1 73 52.3 76 54.1 80 55.9 87 57 90 59 93.6 61.2 96 64.5 98 68.5 99.1 72.5 99.2 80 98.5 83 98.9 86 100.2 88.7 102.5 90.2 105 91.1 107.5 91.4 110 91.3 113 90.6 116 89.5 118.7 87.9 121 85.7 123 85.7 124 85.5 124Z" fill="#8B8E19" fill-rule="evenodd"/>
<path d="M99.5 47 97 47.3 95.5 46.7 94.5 46 92.8 43.5 92 40 92.4 33.5 91.8 26 92.3 22.5 93.5 19.4 95 17.1 96.5 16 98.5 15.4 100 15.6 101.5 16.1 103 17 104.5 18.6 105.7 20.5 106.5 22.5 107.2 27 107.1 30 106.6 33.5 104.9 40 103.8 42.5 102.5 44.6 101 46.2 99.5 47ZM57.5 124 36.9 124 36.9 123 35 120 33.6 116.5 31.3 107 30.3 100 28.9 93.5 28.6 90.5 28.7 85 28.1 78.5 28.5 76 29.3 73.5 33.2 67 34.8 61.5 36 60.4 37 60.3 37.9 60.5 39.2 61.5 39.9 63 40.4 66.5 41.2 68.5 42.7 70.5 47.1 75 49.2 78 50.6 81.5 52 88 53 91 55.2 96.5 57 99.2 60.5 102.5 64 104.8 67.5 105.9 73 106.3 75.5 106.8 77.7 108 79 110 79.1 111.5 78.8 113 78 114.3 77 115.2 75.3 116 73.5 116.3 68 114.9 65.5 115.4 64 116.3 62.5 117.7 57.8 123 57.8 124 57.5 124Z" fill="#BEA534" fill-rule="evenodd"/>
<path d="M49 119.5 47 119.6 45 119.2 43 118.2 41 116.5 39.4 114.5 37.9 112 36.5 108.5 35.3 104.5 32.9 93 32.2 80 32.6 77 33.5 74.8 35 72.9 36.5 72 38.5 72.2 41 73.7 44 76.5 46.2 79.5 47.5 82.7 49.3 90.5 51.5 97.4 52.8 100.5 55.7 106 56.6 108.5 56.8 110.5 56.6 112 56 113.8 55 115.5 52.5 118 51 118.9 49 119.5Z" fill="#E2C768" fill-rule="evenodd"/>
<path d="M47 110.5 46 110.6 44.5 110.1 42.5 108.3 40 104 38.5 99.5 37.1 92.5 36.3 83.5 36.5 81.5 36.9 80 37.5 79.2 38.5 78.6 40 78.7 41.9 80 43 81.5 44 84.1 48.4 101.5 49.2 105.5 49.2 107.5 48.8 109 48 110 47 110.5Z" fill="#FFE7A2" fill-rule="evenodd"/>
</g>
<use href="#grid"/>
<use href="#coast"/>
</g>
<rect x="0" y="0" width="148" height="121.4" fill="none" stroke="#1a1a1a" stroke-width="1"/>
</g>
<rect x="155.98" y="611.2" width="45.92" height="15.7" fill="#fff" stroke="#111" stroke-width="0.9"/>
<text transform="translate(159.38 621.4) scale(1.0000 1)" stroke="#000" stroke-width="0.25" font-size="10.2">Max: 1.5</text>
<rect x="204.6" y="516.2" width="15.8" height="107.6" fill="#0C4150"/>
<rect x="204.6" y="516.2" width="15.8" height="95.64" fill="#1C4C46"/>
<rect x="204.6" y="516.2" width="15.8" height="83.69" fill="#2A5A3D"/>
<rect x="204.6" y="516.2" width="15.8" height="71.73" fill="#3E6A34"/>
<rect x="204.6" y="516.2" width="15.8" height="59.78" fill="#5E7C28"/>
<rect x="204.6" y="516.2" width="15.8" height="47.82" fill="#8B8E19"/>
<rect x="204.6" y="516.2" width="15.8" height="35.87" fill="#BEA534"/>
<rect x="204.6" y="516.2" width="15.8" height="23.91" fill="#E2C768"/>
<rect x="204.6" y="516.2" width="15.8" height="11.96" fill="#FFE7A2"/>
<path d="M204.6 516.4 L212.5 502 L220.4 516.4 Z" fill="#FFE7A2"/>
<path d="M204.6 623.8 L204.6 516.2 L212.5 502 L220.4 516.2 L220.4 623.8 Z" fill="none" stroke="#111" stroke-width="0.95" stroke-linejoin="miter"/>
<path d="M220.4 623.8h5.6 M220.4 611.84h3.2 M220.4 599.89h5.6 M220.4 587.93h3.2 M220.4 575.98h5.6 M220.4 564.02h3.2 M220.4 552.07h5.6 M220.4 540.11h3.2 M220.4 528.16h5.6 M220.4 516.2h3.2" stroke="#111" stroke-width="0.95"/>
<text transform="translate(229.4 627.9) scale(1.0000 1)" stroke="#000" stroke-width="0.25" font-size="10.1">0</text>
<text transform="translate(229.4 603.99) scale(1.0000 1)" stroke="#000" stroke-width="0.25" font-size="10.1">0.3</text>
<text transform="translate(229.4 580.08) scale(1.0000 1)" stroke="#000" stroke-width="0.25" font-size="10.1">0.6</text>
<text transform="translate(229.4 556.17) scale(1.0000 1)" stroke="#000" stroke-width="0.25" font-size="10.1">0.9</text>
<text transform="translate(229.4 532.26) scale(1.0000 1)" stroke="#000" stroke-width="0.25" font-size="10.1">1.2</text>
<text transform="translate(251.2 570) rotate(90) scale(1.0000 1)" text-anchor="middle" stroke="#000" stroke-width="0.25" font-size="10.55">Frequency [%]</text>
<text transform="translate(269.5 494.6) scale(0.9615 1)" font-weight="bold" stroke="#000" stroke-width="0.15" font-size="11.54">(h)</text>
<g transform="translate(269.4 502.4)">
<g clip-path="url(#fr)"><g clip-path="url(#fc)">
<use href="#fan" fill="#F4F4F4"/>
<path d="M151 124 -3 124 -3 -3 151 -3 151 124Z" fill="#D6D9DF" fill-rule="evenodd"/>
<path d="M151 124 -3 124 -3 -3 151 -3 151 124Z" fill="#B6BDCB" fill-rule="evenodd"/>
<path d="M151 124 -3 124 -3 -3 151 -3 151 124ZM60.4 30 62 28.6 64.1 25 64.1 22 63.6 20.5 63 19.9 60.5 19 55.5 20.1 47.5 19.4 44 18.7 42.7 19 42.4 20.5 42.7 22 44.1 24 46 25.7 48 26.7 56 29.3 59 30.1 60.4 30Z" fill="#98A6C5" fill-rule="evenodd"/>
<path d="M151 124 -3 124 -3 -3 -1 -3 1.4 0 4.2 2.5 27 18.9 37.4 32.5 41.5 37.5 42.1 39 42.4 44 43 45.3 44.5 46.2 52.5 48.7 55 48.5 58 47 61.5 44.5 63.5 42 72.5 28.8 73.4 27 74.2 23.5 74.3 15 74.9 12.5 75.5 11.6 76.5 10.8 79 10.2 85.9 9 89 8.7 91 9 93 10.1 99.5 14.9 100.5 16.8 102.3 22.5 103.5 24.5 109 30.6 112 33.1 114 34.2 115 34.2 116 33.8 120 30.5 121.5 29.6 129 27.9 133 28.1 144.5 29.6 147 30.2 151 30.2 151 124Z" fill="#7C96C6" fill-rule="evenodd"/>
<path d="M84.5 124 25.9 124 26.5 122.2 27.5 121.3 33 120.5 33.2 120 32.1 119 31.3 117 30.6 116 27.3 113 25 111.4 20.5 109.4 19.5 108.7 18.9 107.5 18.7 106 18.7 91.5 19 88.5 20.3 85 27 70.7 30.1 68 33.5 64 35.5 62.3 38 61.5 44 61.7 50.5 60.4 53 59.1 61 53.8 63 51.5 70 40.9 75.5 33.9 76.4 32 78.1 26.5 79 25.3 80 24.9 88.5 26.5 91.2 27.5 94.5 30.2 103 38.2 104.6 40 105.7 42 110.1 53.5 110.6 56 110.3 69 109 70.2 99 72.8 98 73.2 97.3 74 96.2 77.5 94.6 88.5 94.1 90.5 82.2 110 82 111 82.1 111.5 83 112.2 84.5 112.5 101.5 114.1 129.4 118.5 136 120 137.2 120.5 138.1 121.5 138 122 137 122.7 135 123.2 133 123.3 130 122.9 127.3 121 125 120.4 86 120.8 84.9 121 84.5 121.5 85 124 84.5 124ZM147.5 116.8 147 116.9 146 116.3 145 115 144 112.9 137.7 93.5 134.2 86 131.1 73.5 130.9 71.5 131.5 70.7 133.5 70.7 141 72 142.5 72.4 143.1 73 143.6 74 144.1 76 144.9 89 145 89.8 145.5 90.5 146 89.7 146.2 88.5 146.8 76 147.4 75 148 74.5 149 74.3 151 74.5 151 96.6 145.5 95.3 144.9 97 145.1 106.5 145.5 108 147.3 111 147.9 115 147.8 116.5 147.5 116.8Z" fill="#5C84C2" fill-rule="evenodd"/>
<path d="M76.5 64.3 75 64.3 73.5 62.8 68.5 55.3 68 54 68.1 53 69.3 50.5 72 46.6 80 37.5 81.5 37 82.5 37.3 84 38.3 90.5 44 91.2 45 91.5 46 91.3 48.5 90.1 54 88.8 56 85.4 59 76.5 64.3ZM60.5 112.6 58 112.8 54 112.8 49 112.2 44.5 110 37.5 107.7 34 105.4 28 103.1 26.6 102 26.1 100 26.1 95 26.6 85.5 27.4 83 30.4 76.5 31.2 75 32.1 74 42 68.8 47.5 67.9 50 67.9 51.3 68.5 53 69.8 63.5 79.2 64.5 80.5 65.5 83.5 66.5 84.8 71.5 86.4 75 87.1 76.5 86.8 79.5 84.8 80.5 84.9 80.9 86 80.9 87.5 80.3 90.5 72.4 104.5 70.8 106 65.4 108.5 62 111.8 60.5 112.6ZM58.5 124 53.8 124 53.9 123 54.3 122.5 55 122.3 57.5 122.3 58.5 123 58.7 124 58.5 124Z" fill="#3B6DB0" fill-rule="evenodd"/>
<path d="M51 106 47.5 105.5 41.9 103.5 40 102 34.4 96.5 33.7 95 34.1 83.5 34.4 81.5 35.2 79.5 36 78.4 37.1 77.5 44.5 74.2 46 74.2 47 74.6 56.5 79.7 59.5 82 60.6 84 61.6 90 62.2 92 63 93 65.5 94.1 66.4 95 66.4 96 65.7 97.5 64 100.1 62.6 101.5 53.3 105.5 51 106Z" fill="#295A93" fill-rule="evenodd"/>
<path d="M50 99.5 48 99.8 46.5 99 40 93.5 38.8 92 38.5 90 39.1 85 39.9 83 41 82 43.5 81.1 46.5 81.5 53.5 83.8 55 84.6 56 85.7 56.5 87.5 56.9 91 57 94 56.8 95.5 56.1 96.5 55.4 97 50 99.5Z" fill="#1E4570" fill-rule="evenodd"/>
</g>
<use href="#grid"/>
<use href="#coast"/>
</g>
<rect x="0" y="0" width="148" height="121.4" fill="none" stroke="#1a1a1a" stroke-width="1"/>
</g>
<rect x="369.11" y="611.2" width="51.59" height="15.7" fill="#fff" stroke="#111" stroke-width="0.9"/>
<text transform="translate(372.51 621.4) scale(1.0000 1)" stroke="#000" stroke-width="0.25" font-size="10.2">Max: 10.0</text>
<rect x="423.4" y="516.5" width="15.8" height="107.3" fill="#F4F4F4"/>
<rect x="423.4" y="516.5" width="15.8" height="96.57" fill="#D6D9DF"/>
<rect x="423.4" y="516.5" width="15.8" height="85.84" fill="#B6BDCB"/>
<rect x="423.4" y="516.5" width="15.8" height="75.11" fill="#98A6C5"/>
<rect x="423.4" y="516.5" width="15.8" height="64.38" fill="#7C96C6"/>
<rect x="423.4" y="516.5" width="15.8" height="53.65" fill="#5C84C2"/>
<rect x="423.4" y="516.5" width="15.8" height="42.92" fill="#3B6DB0"/>
<rect x="423.4" y="516.5" width="15.8" height="32.19" fill="#295A93"/>
<rect x="423.4" y="516.5" width="15.8" height="21.46" fill="#1E4570"/>
<rect x="423.4" y="516.5" width="15.8" height="10.73" fill="#1A2E4C"/>
<path d="M423.4 516.7 L431.3 502.2 L439.2 516.7 Z" fill="#1A2E4C"/>
<path d="M423.4 623.8 L423.4 516.5 L431.3 502.2 L439.2 516.5 L439.2 623.8 Z" fill="none" stroke="#111" stroke-width="0.95" stroke-linejoin="miter"/>
<path d="M439.2 623.8h5.6 M439.2 613.07h3.2 M439.2 602.34h3.2 M439.2 591.61h5.6 M439.2 580.88h3.2 M439.2 570.15h3.2 M439.2 559.42h5.6 M439.2 548.69h3.2 M439.2 537.96h3.2 M439.2 527.23h5.6 M439.2 516.5h3.2" stroke="#111" stroke-width="0.95"/>
<text transform="translate(448.2 627.9) scale(1.0000 1)" stroke="#000" stroke-width="0.25" font-size="10.1">0</text>
<text transform="translate(448.2 595.71) scale(1.0000 1)" stroke="#000" stroke-width="0.25" font-size="10.1">3</text>
<text transform="translate(448.2 563.52) scale(1.0000 1)" stroke="#000" stroke-width="0.25" font-size="10.1">6</text>
<text transform="translate(448.2 531.33) scale(1.0000 1)" stroke="#000" stroke-width="0.25" font-size="10.1">9</text>
<text transform="translate(487.6 570.15) rotate(90) scale(1.0000 1)" text-anchor="middle" stroke="#000" stroke-width="0.25" font-size="10.4">Total precipitation</text>
<text transform="translate(475.6 570.15) rotate(90) scale(1.0000 1)" text-anchor="middle" stroke="#000" stroke-width="0.25" font-size="10.4">fraction [%]</text>
<text transform="translate(76.6 635.3) scale(1.0000 1)" text-anchor="middle" stroke="#000" stroke-width="0.25" font-size="10.1">0°</text>
<text transform="translate(104.55 635.3) scale(1.0000 1)" text-anchor="middle" stroke="#000" stroke-width="0.25" font-size="10.1">10°E</text>
<text transform="translate(131.45 635.3) scale(1.0000 1)" text-anchor="middle" stroke="#000" stroke-width="0.25" font-size="10.1">20°E</text>
<text transform="translate(159.2 635.3) scale(1.0000 1)" text-anchor="middle" stroke="#000" stroke-width="0.25" font-size="10.1">30°E</text>
<text transform="translate(186.2 635.3) scale(1.0000 1)" text-anchor="middle" stroke="#000" stroke-width="0.25" font-size="10.1">40°E</text>
<text transform="translate(295.4 635.3) scale(1.0000 1)" text-anchor="middle" stroke="#000" stroke-width="0.25" font-size="10.1">0°</text>
<text transform="translate(323.35 635.3) scale(1.0000 1)" text-anchor="middle" stroke="#000" stroke-width="0.25" font-size="10.1">10°E</text>
<text transform="translate(350.25 635.3) scale(1.0000 1)" text-anchor="middle" stroke="#000" stroke-width="0.25" font-size="10.1">20°E</text>
<text transform="translate(378 635.3) scale(1.0000 1)" text-anchor="middle" stroke="#000" stroke-width="0.25" font-size="10.1">30°E</text>
<text transform="translate(405 635.3) scale(1.0000 1)" text-anchor="middle" stroke="#000" stroke-width="0.25" font-size="10.1">40°E</text>
</svg></body></html>
